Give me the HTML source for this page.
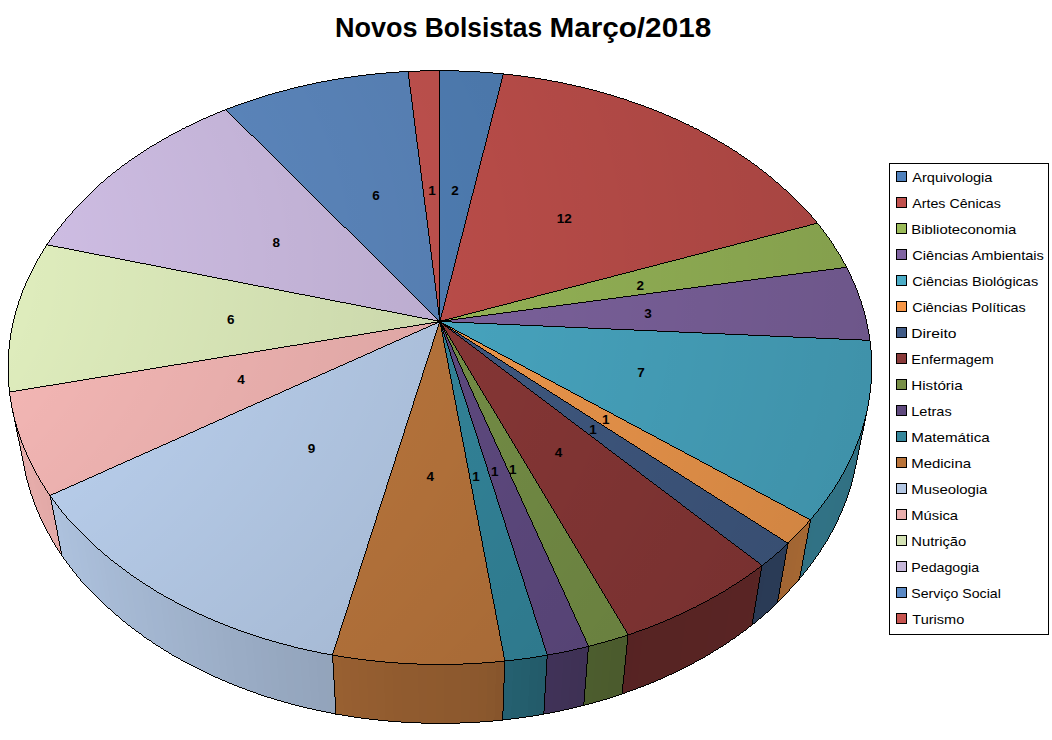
<!DOCTYPE html>
<html lang="pt"><head><meta charset="utf-8"><title>Novos Bolsistas Março/2018</title>
<style>
html,body{margin:0;padding:0;background:#fff;}
body{width:1052px;height:740px;overflow:hidden;position:relative;font-family:"Liberation Sans",sans-serif;}
svg{position:absolute;left:0;top:0;display:block;}
.t{font-family:"Liberation Sans",sans-serif;font-weight:bold;fill:#000;}
.dl{font-family:"Liberation Sans",sans-serif;font-weight:bold;font-size:13.5px;fill:#000;text-anchor:middle;}
.lg{font-family:"Liberation Sans",sans-serif;font-size:13px;fill:#000;}
</style></head><body>
<svg width="1052" height="740" viewBox="0 0 1052 740">
<defs>
<radialGradient id="lit" gradientUnits="userSpaceOnUse" cx="0" cy="0" r="1250" gradientTransform="translate(-306.5 266.9) scale(1 0.7143)">
<stop offset="0" stop-color="#000" stop-opacity="0"/>
<stop offset="0.2656" stop-color="#000" stop-opacity="0"/>
<stop offset="1" stop-color="#000" stop-opacity="0.1941"/>
</radialGradient>
</defs>
<rect width="1052" height="740" fill="#fff"/>
<text id="t0" class="t" x="335.00" y="36.8" font-size="27" textLength="82.64" lengthAdjust="spacingAndGlyphs">Novos</text>
<text id="t1" class="t" x="424.80" y="36.8" font-size="27" textLength="117.30" lengthAdjust="spacingAndGlyphs">Bolsistas</text>
<text id="t2" class="t" x="549.40" y="36.8" font-size="27" textLength="161.81" lengthAdjust="spacingAndGlyphs">Março/2018</text>
<g shape-rendering="crispEdges">
<g stroke="none">
<polygon points="867.48,408.86 866.36,414.04 865.10,419.22 863.70,424.39 862.16,429.57 860.48,434.73 858.67,439.89 856.72,445.03 854.63,450.17 852.40,455.29 850.02,460.40 847.51,465.49 844.86,470.56 842.07,475.61 839.13,480.63 836.06,485.63 832.85,490.60 829.49,495.55 826.00,500.46 822.36,505.34 818.59,510.18 814.67,514.98 810.62,519.75 799.49,579.25 803.44,574.50 807.26,569.70 810.95,564.87 814.51,560.00 817.92,555.09 821.21,550.15 824.35,545.19 827.36,540.19 830.24,535.17 832.98,530.13 835.58,525.06 838.05,519.97 840.38,514.87 842.58,509.75 844.64,504.61 846.57,499.46 848.36,494.31 850.02,489.14 851.54,483.96 852.93,478.78 854.19,473.60 855.31,468.42" fill="#317183"/>
<polygon points="867.48,408.86 866.36,414.04 854.19,473.60 855.31,468.42" fill="#306F81"/>
<polygon points="866.36,414.04 865.10,419.22 852.93,478.78 854.19,473.60" fill="#306F81"/>
<polygon points="865.10,419.22 863.70,424.39 851.54,483.96 852.93,478.78" fill="#306F82"/>
<polygon points="863.70,424.39 862.16,429.57 850.02,489.14 851.54,483.96" fill="#307082"/>
<polygon points="862.16,429.57 860.48,434.73 848.36,494.31 850.02,489.14" fill="#307082"/>
<polygon points="860.48,434.73 858.67,439.89 846.57,499.46 848.36,494.31" fill="#307082"/>
<polygon points="858.67,439.89 856.72,445.03 844.64,504.61 846.57,499.46" fill="#317083"/>
<polygon points="856.72,445.03 854.63,450.17 842.58,509.75 844.64,504.61" fill="#317083"/>
<polygon points="854.63,450.17 852.40,455.29 840.38,514.87 842.58,509.75" fill="#317183"/>
<polygon points="852.40,455.29 850.02,460.40 838.05,519.97 840.38,514.87" fill="#317183"/>
<polygon points="850.02,460.40 847.51,465.49 835.58,525.06 838.05,519.97" fill="#317183"/>
<polygon points="847.51,465.49 844.86,470.56 832.98,530.13 835.58,525.06" fill="#317184"/>
<polygon points="844.86,470.56 842.07,475.61 830.24,535.17 832.98,530.13" fill="#317184"/>
<polygon points="842.07,475.61 839.13,480.63 827.36,540.19 830.24,535.17" fill="#317184"/>
<polygon points="839.13,480.63 836.06,485.63 824.35,545.19 827.36,540.19" fill="#317284"/>
<polygon points="836.06,485.63 832.85,490.60 821.21,550.15 824.35,545.19" fill="#317284"/>
<polygon points="832.85,490.60 829.49,495.55 817.92,555.09 821.21,550.15" fill="#317285"/>
<polygon points="829.49,495.55 826.00,500.46 814.51,560.00 817.92,555.09" fill="#317285"/>
<polygon points="826.00,500.46 822.36,505.34 810.95,564.87 814.51,560.00" fill="#317285"/>
<polygon points="822.36,505.34 818.59,510.18 807.26,569.70 810.95,564.87" fill="#317285"/>
<polygon points="818.59,510.18 814.67,514.98 803.44,574.50 807.26,569.70" fill="#317284"/>
<polygon points="814.67,514.98 810.62,519.75 799.49,579.25 803.44,574.50" fill="#317184"/>
<polygon points="810.62,519.75 806.39,524.52 802.01,529.25 797.50,533.93 792.84,538.56 788.05,543.14 777.48,602.59 782.15,598.02 786.69,593.40 791.09,588.73 795.36,584.02 799.49,579.25" fill="#A36633"/>
<polygon points="810.62,519.75 806.39,524.52 795.36,584.02 799.49,579.25" fill="#A46733"/>
<polygon points="806.39,524.52 802.01,529.25 791.09,588.73 795.36,584.02" fill="#A46733"/>
<polygon points="802.01,529.25 797.50,533.93 786.69,593.40 791.09,588.73" fill="#A36633"/>
<polygon points="797.50,533.93 792.84,538.56 782.15,598.02 786.69,593.40" fill="#A26633"/>
<polygon points="792.84,538.56 788.05,543.14 777.48,602.59 782.15,598.02" fill="#A26533"/>
<polygon points="788.05,543.14 783.13,547.67 778.06,552.14 772.87,556.56 767.54,560.91 762.07,565.20 752.19,624.58 757.51,620.30 762.69,615.96 767.75,611.56 772.68,607.11 777.48,602.59" fill="#2A3B56"/>
<polygon points="788.05,543.14 783.13,547.67 772.68,607.11 777.48,602.59" fill="#2A3B56"/>
<polygon points="783.13,547.67 778.06,552.14 767.75,611.56 772.68,607.11" fill="#2A3B56"/>
<polygon points="778.06,552.14 772.87,556.56 762.69,615.96 767.75,611.56" fill="#2A3B56"/>
<polygon points="772.87,556.56 767.54,560.91 757.51,620.30 762.69,615.96" fill="#2A3B56"/>
<polygon points="767.54,560.91 762.07,565.20 752.19,624.58 757.51,620.30" fill="#2A3A55"/>
<polygon points="762.07,565.20 756.48,569.43 750.76,573.58 744.91,577.68 738.94,581.70 732.84,585.64 726.63,589.51 720.29,593.31 713.83,597.03 707.26,600.66 700.57,604.21 693.78,607.68 686.87,611.06 679.86,614.35 672.75,617.55 665.54,620.66 658.22,623.67 650.81,626.59 643.31,629.41 635.72,632.13 628.05,634.75 622.09,693.82 629.53,691.22 636.89,688.51 644.16,685.71 651.35,682.80 658.44,679.80 665.44,676.71 672.34,673.53 679.14,670.25 685.84,666.89 692.44,663.44 698.92,659.90 705.31,656.28 711.58,652.58 717.73,648.80 723.77,644.95 729.70,641.01 735.50,637.01 741.19,632.93 746.75,628.79 752.19,624.58" fill="#582423"/>
<polygon points="762.07,565.20 756.48,569.43 746.75,628.79 752.19,624.58" fill="#592524"/>
<polygon points="756.48,569.43 750.76,573.58 741.19,632.93 746.75,628.79" fill="#592424"/>
<polygon points="750.76,573.58 744.91,577.68 735.50,637.01 741.19,632.93" fill="#592424"/>
<polygon points="744.91,577.68 738.94,581.70 729.70,641.01 735.50,637.01" fill="#592424"/>
<polygon points="738.94,581.70 732.84,585.64 723.77,644.95 729.70,641.01" fill="#592424"/>
<polygon points="732.84,585.64 726.63,589.51 717.73,648.80 723.77,644.95" fill="#582424"/>
<polygon points="726.63,589.51 720.29,593.31 711.58,652.58 717.73,648.80" fill="#582424"/>
<polygon points="720.29,593.31 713.83,597.03 705.31,656.28 711.58,652.58" fill="#582424"/>
<polygon points="713.83,597.03 707.26,600.66 698.92,659.90 705.31,656.28" fill="#582423"/>
<polygon points="707.26,600.66 700.57,604.21 692.44,663.44 698.92,659.90" fill="#582423"/>
<polygon points="700.57,604.21 693.78,607.68 685.84,666.89 692.44,663.44" fill="#582423"/>
<polygon points="693.78,607.68 686.87,611.06 679.14,670.25 685.84,666.89" fill="#582423"/>
<polygon points="686.87,611.06 679.86,614.35 672.34,673.53 679.14,670.25" fill="#572423"/>
<polygon points="679.86,614.35 672.75,617.55 665.44,676.71 672.34,673.53" fill="#572423"/>
<polygon points="672.75,617.55 665.54,620.66 658.44,679.80 665.44,676.71" fill="#572423"/>
<polygon points="665.54,620.66 658.22,623.67 651.35,682.80 658.44,679.80" fill="#572423"/>
<polygon points="658.22,623.67 650.81,626.59 644.16,685.71 651.35,682.80" fill="#572423"/>
<polygon points="650.81,626.59 643.31,629.41 636.89,688.51 644.16,685.71" fill="#572423"/>
<polygon points="643.31,629.41 635.72,632.13 629.53,691.22 636.89,688.51" fill="#572323"/>
<polygon points="635.72,632.13 628.05,634.75 622.09,693.82 629.53,691.22" fill="#562323"/>
<polygon points="628.05,634.75 620.29,637.27 612.45,639.68 604.53,641.99 596.54,644.19 588.48,646.29 583.75,705.30 591.56,703.21 599.30,701.02 606.97,698.73 614.57,696.33 622.09,693.82" fill="#4C5C2D"/>
<polygon points="628.05,634.75 620.29,637.27 614.57,696.33 622.09,693.82" fill="#4B5B2D"/>
<polygon points="620.29,637.27 612.45,639.68 606.97,698.73 614.57,696.33" fill="#4B5B2D"/>
<polygon points="612.45,639.68 604.53,641.99 599.30,701.02 606.97,698.73" fill="#4C5C2D"/>
<polygon points="604.53,641.99 596.54,644.19 591.56,703.21 599.30,701.02" fill="#4C5C2E"/>
<polygon points="596.54,644.19 588.48,646.29 583.75,705.30 591.56,703.21" fill="#4C5D2E"/>
<polygon points="588.48,646.29 580.35,648.27 572.16,650.15 563.91,651.91 555.61,653.56 547.25,655.10 543.82,714.05 551.91,712.53 559.96,710.89 567.95,709.13 575.88,707.27 583.75,705.30" fill="#3F3256"/>
<polygon points="588.48,646.29 580.35,648.27 575.88,707.27 583.75,705.30" fill="#3E3155"/>
<polygon points="580.35,648.27 572.16,650.15 567.95,709.13 575.88,707.27" fill="#3F3155"/>
<polygon points="572.16,650.15 563.91,651.91 559.96,710.89 567.95,709.13" fill="#3F3256"/>
<polygon points="563.91,651.91 555.61,653.56 551.91,712.53 559.96,710.89" fill="#403257"/>
<polygon points="555.61,653.56 547.25,655.10 543.82,714.05 551.91,712.53" fill="#403258"/>
<polygon points="547.25,655.10 538.84,656.52 530.39,657.82 521.89,659.02 513.36,660.09 504.80,661.05 502.72,719.97 511.01,719.02 519.27,717.95 527.49,716.77 535.68,715.47 543.82,714.05" fill="#245E6D"/>
<polygon points="547.25,655.10 538.84,656.52 535.68,715.47 543.82,714.05" fill="#235B6A"/>
<polygon points="538.84,656.52 530.39,657.82 527.49,716.77 535.68,715.47" fill="#235C6B"/>
<polygon points="530.39,657.82 521.89,659.02 519.27,717.95 527.49,716.77" fill="#245E6D"/>
<polygon points="521.89,659.02 513.36,660.09 511.01,719.02 519.27,717.95" fill="#245F6E"/>
<polygon points="513.36,660.09 504.80,661.05 502.72,719.97 511.01,719.02" fill="#256070"/>
<polygon points="504.80,661.05 496.20,661.88 487.58,662.60 478.94,663.20 470.28,663.68 461.60,664.04 452.92,664.28 444.23,664.40 435.54,664.40 426.85,664.28 418.16,664.04 409.49,663.68 400.83,663.20 392.19,662.60 383.57,661.88 374.97,661.05 366.41,660.09 357.87,659.02 349.38,657.82 340.93,656.52 332.52,655.10 335.95,714.05 344.09,715.47 352.27,716.77 360.50,717.95 368.76,719.02 377.05,719.97 385.37,720.80 393.71,721.51 402.08,722.11 410.46,722.59 418.86,722.95 427.27,723.18 435.68,723.30 444.09,723.30 452.50,723.18 460.91,722.95 469.30,722.59 477.69,722.11 486.05,721.51 494.40,720.80 502.72,719.97" fill="#8F5A2F"/>
<polygon points="504.80,661.05 496.20,661.88 494.40,720.80 502.72,719.97" fill="#87552C"/>
<polygon points="496.20,661.88 487.58,662.60 486.05,721.51 494.40,720.80" fill="#89572D"/>
<polygon points="487.58,662.60 478.94,663.20 477.69,722.11 486.05,721.51" fill="#8B582D"/>
<polygon points="478.94,663.20 470.28,663.68 469.30,722.59 477.69,722.11" fill="#8C582E"/>
<polygon points="470.28,663.68 461.60,664.04 460.91,722.95 469.30,722.59" fill="#8C592E"/>
<polygon points="461.60,664.04 452.92,664.28 452.50,723.18 460.91,722.95" fill="#8D592E"/>
<polygon points="452.92,664.28 444.23,664.40 444.09,723.30 452.50,723.18" fill="#8D592E"/>
<polygon points="444.23,664.40 435.54,664.40 435.68,723.30 444.09,723.30" fill="#8E5A2E"/>
<polygon points="435.54,664.40 426.85,664.28 427.27,723.18 435.68,723.30" fill="#8F5A2E"/>
<polygon points="426.85,664.28 418.16,664.04 418.86,722.95 427.27,723.18" fill="#8F5A2F"/>
<polygon points="418.16,664.04 409.49,663.68 410.46,722.59 418.86,722.95" fill="#905B2F"/>
<polygon points="409.49,663.68 400.83,663.20 402.08,722.11 410.46,722.59" fill="#905B2F"/>
<polygon points="400.83,663.20 392.19,662.60 393.71,721.51 402.08,722.11" fill="#915B2F"/>
<polygon points="392.19,662.60 383.57,661.88 385.37,720.80 393.71,721.51" fill="#925C2F"/>
<polygon points="383.57,661.88 374.97,661.05 377.05,719.97 385.37,720.80" fill="#935D30"/>
<polygon points="374.97,661.05 366.41,660.09 368.76,719.02 377.05,719.97" fill="#945D30"/>
<polygon points="366.41,660.09 357.87,659.02 360.50,717.95 368.76,719.02" fill="#955E30"/>
<polygon points="357.87,659.02 349.38,657.82 352.27,716.77 360.50,717.95" fill="#965E31"/>
<polygon points="349.38,657.82 340.93,656.52 344.09,715.47 352.27,716.77" fill="#975F31"/>
<polygon points="340.93,656.52 332.52,655.10 335.95,714.05 344.09,715.47" fill="#986031"/>
<polygon points="332.52,655.10 324.16,653.56 315.86,651.91 307.61,650.15 299.41,648.27 291.29,646.29 283.23,644.19 275.24,641.99 267.32,639.68 259.48,637.27 251.72,634.75 244.04,632.13 236.45,629.41 228.95,626.59 221.55,623.67 214.23,620.66 207.02,617.55 199.90,614.35 192.89,611.06 185.99,607.68 179.19,604.21 172.51,600.66 165.94,597.03 159.48,593.31 153.14,589.51 146.92,585.64 140.83,581.70 134.85,577.68 129.01,573.58 123.29,569.43 117.69,565.20 112.23,560.91 106.90,556.56 101.70,552.14 96.64,547.67 91.71,543.14 86.92,538.56 82.27,533.93 77.76,529.25 73.38,524.52 69.15,519.75 65.05,514.93 61.10,510.08 57.29,505.18 53.62,500.25 50.10,495.29 61.67,554.83 65.12,559.79 68.70,564.71 72.42,569.60 76.28,574.45 80.28,579.25 84.41,584.02 88.68,588.73 93.08,593.40 97.62,598.02 102.29,602.59 107.08,607.11 112.01,611.56 117.07,615.96 122.26,620.30 127.58,624.58 133.02,628.79 138.58,632.93 144.26,637.01 150.07,641.01 155.99,644.95 162.04,648.80 168.19,652.58 174.46,656.28 180.84,659.90 187.33,663.44 193.93,666.89 200.63,670.25 207.43,673.53 214.33,676.71 221.33,679.80 228.42,682.80 235.61,685.71 242.88,688.51 250.24,691.22 257.68,693.82 265.20,696.33 272.79,698.73 280.46,701.02 288.21,703.21 296.01,705.30 303.89,707.27 311.82,709.13 319.81,710.89 327.86,712.53 335.95,714.05" fill="#A1B4CE"/>
<polygon points="332.52,655.10 324.16,653.56 327.86,712.53 335.95,714.05" fill="#93A4BB"/>
<polygon points="324.16,653.56 315.86,651.91 319.81,710.89 327.86,712.53" fill="#93A4BC"/>
<polygon points="315.86,651.91 307.61,650.15 311.82,709.13 319.81,710.89" fill="#94A5BD"/>
<polygon points="307.61,650.15 299.41,648.27 303.89,707.27 311.82,709.13" fill="#95A6BE"/>
<polygon points="299.41,648.27 291.29,646.29 296.01,705.30 303.89,707.27" fill="#95A7BF"/>
<polygon points="291.29,646.29 283.23,644.19 288.21,703.21 296.01,705.30" fill="#96A7BF"/>
<polygon points="283.23,644.19 275.24,641.99 280.46,701.02 288.21,703.21" fill="#96A8C0"/>
<polygon points="275.24,641.99 267.32,639.68 272.79,698.73 280.46,701.02" fill="#97A9C1"/>
<polygon points="267.32,639.68 259.48,637.27 265.20,696.33 272.79,698.73" fill="#98A9C2"/>
<polygon points="259.48,637.27 251.72,634.75 257.68,693.82 265.20,696.33" fill="#98AAC3"/>
<polygon points="251.72,634.75 244.04,632.13 250.24,691.22 257.68,693.82" fill="#99ABC4"/>
<polygon points="244.04,632.13 236.45,629.41 242.88,688.51 250.24,691.22" fill="#9AACC5"/>
<polygon points="236.45,629.41 228.95,626.59 235.61,685.71 242.88,688.51" fill="#9AACC5"/>
<polygon points="228.95,626.59 221.55,623.67 228.42,682.80 235.61,685.71" fill="#9BADC6"/>
<polygon points="221.55,623.67 214.23,620.66 221.33,679.80 228.42,682.80" fill="#9CAEC7"/>
<polygon points="214.23,620.66 207.02,617.55 214.33,676.71 221.33,679.80" fill="#9DAFC8"/>
<polygon points="207.02,617.55 199.90,614.35 207.43,673.53 214.33,676.71" fill="#9DB0C9"/>
<polygon points="199.90,614.35 192.89,611.06 200.63,670.25 207.43,673.53" fill="#9EB0CA"/>
<polygon points="192.89,611.06 185.99,607.68 193.93,666.89 200.63,670.25" fill="#9FB1CB"/>
<polygon points="185.99,607.68 179.19,604.21 187.33,663.44 193.93,666.89" fill="#9FB2CB"/>
<polygon points="179.19,604.21 172.51,600.66 180.84,659.90 187.33,663.44" fill="#A0B3CC"/>
<polygon points="172.51,600.66 165.94,597.03 174.46,656.28 180.84,659.90" fill="#A1B3CD"/>
<polygon points="165.94,597.03 159.48,593.31 168.19,652.58 174.46,656.28" fill="#A1B4CE"/>
<polygon points="159.48,593.31 153.14,589.51 162.04,648.80 168.19,652.58" fill="#A2B5CF"/>
<polygon points="153.14,589.51 146.92,585.64 155.99,644.95 162.04,648.80" fill="#A2B5D0"/>
<polygon points="146.92,585.64 140.83,581.70 150.07,641.01 155.99,644.95" fill="#A3B6D0"/>
<polygon points="140.83,581.70 134.85,577.68 144.26,637.01 150.07,641.01" fill="#A4B7D1"/>
<polygon points="134.85,577.68 129.01,573.58 138.58,632.93 144.26,637.01" fill="#A4B7D2"/>
<polygon points="129.01,573.58 123.29,569.43 133.02,628.79 138.58,632.93" fill="#A5B8D2"/>
<polygon points="123.29,569.43 117.69,565.20 127.58,624.58 133.02,628.79" fill="#A5B9D3"/>
<polygon points="117.69,565.20 112.23,560.91 122.26,620.30 127.58,624.58" fill="#A6B9D4"/>
<polygon points="112.23,560.91 106.90,556.56 117.07,615.96 122.26,620.30" fill="#A6BAD5"/>
<polygon points="106.90,556.56 101.70,552.14 112.01,611.56 117.07,615.96" fill="#A7BAD5"/>
<polygon points="101.70,552.14 96.64,547.67 107.08,607.11 112.01,611.56" fill="#A8BBD6"/>
<polygon points="96.64,547.67 91.71,543.14 102.29,602.59 107.08,607.11" fill="#A8BCD7"/>
<polygon points="91.71,543.14 86.92,538.56 97.62,598.02 102.29,602.59" fill="#A9BCD8"/>
<polygon points="86.92,538.56 82.27,533.93 93.08,593.40 97.62,598.02" fill="#A9BDD8"/>
<polygon points="82.27,533.93 77.76,529.25 88.68,588.73 93.08,593.40" fill="#AABED9"/>
<polygon points="77.76,529.25 73.38,524.52 84.41,584.02 88.68,588.73" fill="#AABEDA"/>
<polygon points="73.38,524.52 69.15,519.75 80.28,579.25 84.41,584.02" fill="#ABBFDA"/>
<polygon points="69.15,519.75 65.05,514.93 76.28,574.45 80.28,579.25" fill="#ABBFDB"/>
<polygon points="65.05,514.93 61.10,510.08 72.42,569.60 76.28,574.45" fill="#ACC0DB"/>
<polygon points="61.10,510.08 57.29,505.18 68.70,564.71 72.42,569.60" fill="#ACC0DC"/>
<polygon points="57.29,505.18 53.62,500.25 65.12,559.79 68.70,564.71" fill="#ADC1DD"/>
<polygon points="53.62,500.25 50.10,495.29 61.67,554.83 65.12,559.79" fill="#ADC1DD"/>
<polygon points="50.10,495.29 46.76,490.36 43.56,485.40 40.50,480.41 37.59,475.40 34.81,470.37 32.17,465.31 29.67,460.24 27.31,455.15 25.09,450.04 23.01,444.92 21.06,439.79 19.26,434.65 17.59,429.50 16.06,424.35 14.66,419.19 13.41,414.03 12.28,408.86 24.46,468.42 25.58,473.59 26.83,478.75 28.22,483.92 29.73,489.07 31.38,494.22 33.17,499.37 35.08,504.50 37.14,509.62 39.32,514.73 41.64,519.82 44.10,524.89 46.69,529.94 49.41,534.97 52.28,539.98 55.27,544.96 58.40,549.91 61.67,554.83" fill="#E6ACAA"/>
<polygon points="50.10,495.29 46.76,490.36 58.40,549.91 61.67,554.83" fill="#E2A9A7"/>
<polygon points="46.76,490.36 43.56,485.40 55.27,544.96 58.40,549.91" fill="#E2A9A7"/>
<polygon points="43.56,485.40 40.50,480.41 52.28,539.98 55.27,544.96" fill="#E3AAA8"/>
<polygon points="40.50,480.41 37.59,475.40 49.41,534.97 52.28,539.98" fill="#E3AAA8"/>
<polygon points="37.59,475.40 34.81,470.37 46.69,529.94 49.41,534.97" fill="#E4AAA8"/>
<polygon points="34.81,470.37 32.17,465.31 44.10,524.89 46.69,529.94" fill="#E4ABA9"/>
<polygon points="32.17,465.31 29.67,460.24 41.64,519.82 44.10,524.89" fill="#E5ABA9"/>
<polygon points="29.67,460.24 27.31,455.15 39.32,514.73 41.64,519.82" fill="#E6ACAA"/>
<polygon points="27.31,455.15 25.09,450.04 37.14,509.62 39.32,514.73" fill="#E6ACAA"/>
<polygon points="25.09,450.04 23.01,444.92 35.08,504.50 37.14,509.62" fill="#E5ACAA"/>
<polygon points="23.01,444.92 21.06,439.79 33.17,499.37 35.08,504.50" fill="#E5ABA9"/>
<polygon points="21.06,439.79 19.26,434.65 31.38,494.22 33.17,499.37" fill="#E4AAA8"/>
<polygon points="19.26,434.65 17.59,429.50 29.73,489.07 31.38,494.22" fill="#E3AAA8"/>
<polygon points="17.59,429.50 16.06,424.35 28.22,483.92 29.73,489.07" fill="#E2A9A7"/>
<polygon points="16.06,424.35 14.66,419.19 26.83,478.75 28.22,483.92" fill="#E1A8A7"/>
<polygon points="14.66,419.19 13.41,414.03 25.58,473.59 26.83,478.75" fill="#E0A8A6"/>
<polygon points="13.41,414.03 12.28,408.86 24.46,468.42 25.58,473.59" fill="#E0A7A5"/>
</g>
<g stroke="none">
<polygon points="439.88,321.47 439.88,70.70 443.06,70.71 446.24,70.73 449.42,70.77 452.59,70.83 455.77,70.90 458.95,70.99 462.12,71.09 465.30,71.21 468.47,71.35 471.64,71.50 474.81,71.67 477.98,71.85 481.15,72.06 484.31,72.27 487.48,72.51 490.64,72.75 493.80,73.02 496.95,73.30 500.11,73.60 503.26,73.91" fill="#5485BE"/>
<polygon points="439.88,321.47 503.26,73.91 506.43,74.24 509.61,74.59 512.77,74.96 515.94,75.34 519.10,75.74 522.26,76.15 525.42,76.58 528.57,77.03 531.71,77.49 534.86,77.97 537.99,78.46 541.13,78.97 544.26,79.50 547.38,80.04 550.50,80.60 553.61,81.18 556.72,81.77 559.83,82.38 562.93,83.00 566.02,83.64 569.10,84.30 572.19,84.97 575.26,85.66 578.33,86.37 581.39,87.09 584.45,87.83 587.49,88.58 590.54,89.35 593.57,90.14 596.60,90.94 599.62,91.76 602.63,92.59 605.63,93.44 608.63,94.30 611.62,95.19 614.60,96.08 617.57,97.00 620.54,97.93 623.49,98.87 626.44,99.83 629.38,100.81 632.31,101.80 635.23,102.81 638.14,103.84 641.04,104.88 643.93,105.93 646.81,107.00 649.68,108.09 652.54,109.19 655.39,110.31 658.23,111.45 661.06,112.60 663.88,113.76 666.69,114.94 669.48,116.14 672.27,117.35 675.04,118.58 677.80,119.82 680.55,121.08 683.29,122.36 686.02,123.65 688.73,124.95 691.43,126.27 694.12,127.61 696.79,128.96 699.46,130.32 702.11,131.70 704.74,133.10 707.36,134.51 709.97,135.94 712.57,137.38 715.15,138.84 717.71,140.31 720.26,141.79 722.80,143.29 725.32,144.81 727.83,146.34 730.32,147.89 732.80,149.45 735.26,151.02 737.71,152.61 740.14,154.21 742.55,155.83 744.95,157.47 747.33,159.11 749.70,160.78 752.05,162.45 754.38,164.14 756.69,165.85 758.99,167.57 761.27,169.30 763.53,171.05 765.78,172.81 768.00,174.58 770.21,176.37 772.40,178.17 774.57,179.99 776.72,181.82 778.86,183.66 780.97,185.52 783.07,187.39 785.14,189.28 787.20,191.17 789.24,193.09 791.25,195.01 793.25,196.95 795.22,198.90 797.18,200.86 799.11,202.84 801.03,204.83 802.92,206.83 804.79,208.84 806.64,210.87 808.47,212.91 810.27,214.96 812.05,217.03 813.82,219.11 815.55,221.20 817.27,223.30" fill="#C9534F"/>
<polygon points="439.88,321.47 817.27,223.30 818.95,225.39 820.61,227.50 822.24,229.62 823.85,231.75 825.44,233.89 827.00,236.05 828.54,238.21 830.06,240.39 831.55,242.58 833.02,244.77 834.46,246.98 835.88,249.20 837.28,251.43 838.65,253.67 839.99,255.93 841.31,258.19 842.60,260.46 843.87,262.74 845.12,265.03 846.33,267.34" fill="#A0C15D"/>
<polygon points="439.88,321.47 846.33,267.34 847.52,269.65 848.69,271.97 849.82,274.30 850.93,276.64 852.02,278.99 853.08,281.35 854.11,283.72 855.11,286.09 856.08,288.48 857.03,290.87 857.95,293.28 858.84,295.69 859.70,298.11 860.53,300.53 861.34,302.97 862.12,305.41 862.86,307.86 863.58,310.32 864.27,312.79 864.93,315.26 865.56,317.74 866.16,320.23 866.73,322.72 867.27,325.22 867.78,327.73 868.26,330.24 868.71,332.76 869.12,335.28 869.51,337.81 869.87,340.35" fill="#8569A8"/>
<polygon points="439.88,321.47 869.87,340.35 870.19,342.89 870.48,345.44 870.74,347.99 870.97,350.55 871.17,353.11 871.34,355.68 871.47,358.25 871.57,360.82 871.64,363.40 871.68,365.98 871.68,368.57 871.65,371.16 871.59,373.75 871.49,376.35 871.37,378.94 871.20,381.55 871.01,384.15 870.78,386.76 870.52,389.36 870.22,391.97 869.89,394.58 869.53,397.20 869.13,399.81 868.69,402.43 868.23,405.04 867.73,407.66 867.19,410.27 866.62,412.89 866.01,415.51 865.37,418.12 864.70,420.74 863.99,423.36 863.24,425.97 862.46,428.58 861.65,431.19 860.80,433.80 859.91,436.41 858.99,439.02 858.03,441.62 857.04,444.22 856.01,446.82 854.95,449.41 853.85,452.00 852.71,454.59 851.54,457.17 850.33,459.75 849.09,462.33 847.81,464.90 846.50,467.46 845.15,470.02 843.76,472.58 842.34,475.13 840.88,477.67 839.39,480.21 837.86,482.74 836.29,485.26 834.69,487.78 833.05,490.29 831.38,492.79 829.67,495.29 827.93,497.77 826.15,500.25 824.33,502.72 822.48,505.18 820.59,507.63 818.67,510.08 816.71,512.51 814.72,514.93 812.69,517.35 810.62,519.75" fill="#4DB2CF"/>
<polygon points="439.88,321.47 810.62,519.75 808.52,522.14 806.39,524.52 804.22,526.89 802.01,529.25 799.77,531.60 797.50,533.93 795.19,536.25 792.84,538.56 790.47,540.86 788.05,543.14" fill="#FFA251"/>
<polygon points="439.88,321.47 788.05,543.14 785.61,545.41 783.13,547.67 780.61,549.91 778.06,552.14 775.48,554.36 772.87,556.56 770.22,558.74 767.54,560.91 764.82,563.06 762.07,565.20" fill="#445F8A"/>
<polygon points="439.88,321.47 762.07,565.20 759.29,567.32 756.48,569.43 753.64,571.51 750.76,573.58 747.85,575.64 744.91,577.68 741.94,579.69 738.94,581.70 735.91,583.68 732.84,585.64 729.75,587.59 726.63,589.51 723.47,591.42 720.29,593.31 717.07,595.18 713.83,597.03 710.56,598.85 707.26,600.66 703.93,602.45 700.57,604.21 697.19,605.96 693.78,607.68 690.34,609.38 686.87,611.06 683.38,612.72 679.86,614.35 676.32,615.96 672.75,617.55 669.16,619.12 665.54,620.66 661.89,622.18 658.22,623.67 654.53,625.14 650.81,626.59 647.08,628.01 643.31,629.41 639.53,630.78 635.72,632.13 631.90,633.45 628.05,634.75" fill="#913B3A"/>
<polygon points="439.88,321.47 628.05,634.75 624.18,636.02 620.29,637.27 616.38,638.49 612.45,639.68 608.50,640.85 604.53,641.99 600.55,643.11 596.54,644.19 592.52,645.25 588.48,646.29" fill="#7D984B"/>
<polygon points="439.88,321.47 588.48,646.29 584.43,647.29 580.35,648.27 576.27,649.22 572.16,650.15 568.04,651.04 563.91,651.91 559.77,652.75 555.61,653.56 551.43,654.34 547.25,655.10" fill="#654F89"/>
<polygon points="439.88,321.47 547.25,655.10 543.05,655.82 538.84,656.52 534.62,657.19 530.39,657.82 526.14,658.43 521.89,659.02 517.63,659.57 513.36,660.09 509.08,660.58 504.80,661.05" fill="#368DA4"/>
<polygon points="439.88,321.47 504.80,661.05 500.50,661.48 496.20,661.88 491.89,662.26 487.58,662.60 483.26,662.92 478.94,663.20 474.61,663.46 470.28,663.68 465.94,663.88 461.60,664.04 457.26,664.18 452.92,664.28 448.58,664.36 444.23,664.40 439.88,664.42 435.54,664.40 431.19,664.36 426.85,664.28 422.50,664.18 418.16,664.04 413.82,663.88 409.49,663.68 405.16,663.46 400.83,663.20 396.51,662.92 392.19,662.60 387.87,662.26 383.57,661.88 379.27,661.48 374.97,661.05 370.68,660.58 366.41,660.09 362.14,659.57 357.87,659.02 353.62,658.43 349.38,657.82 345.15,657.19 340.93,656.52 336.72,655.82 332.52,655.10" fill="#C27B3F"/>
<polygon points="439.88,321.47 332.52,655.10 328.29,654.33 324.07,653.54 319.86,652.72 315.67,651.87 311.49,650.99 307.33,650.08 303.18,649.15 299.05,648.18 294.93,647.19 290.83,646.17 286.75,645.12 282.69,644.05 278.64,642.94 274.61,641.81 270.60,640.65 266.61,639.47 262.64,638.26 258.69,637.02 254.76,635.75 250.85,634.46 246.97,633.14 243.10,631.80 239.26,630.43 235.44,629.03 231.64,627.61 227.87,626.17 224.11,624.70 220.39,623.20 216.69,621.68 213.01,620.14 209.36,618.57 205.73,616.98 202.13,615.37 198.56,613.73 195.01,612.07 191.49,610.38 187.99,608.68 184.53,606.95 181.09,605.19 177.68,603.42 174.30,601.63 170.95,599.81 167.62,597.97 164.33,596.11 161.07,594.24 157.83,592.34 154.63,590.42 151.45,588.48 148.31,586.52 145.20,584.54 142.12,582.54 139.07,580.53 136.05,578.49 133.07,576.44 130.11,574.37 127.19,572.28 124.30,570.18 121.45,568.06 118.63,565.92 115.84,563.76 113.08,561.59 110.36,559.40 107.67,557.19 105.02,554.98 102.40,552.74 99.81,550.49 97.26,548.23 94.74,545.95 92.26,543.66 89.81,541.35 87.40,539.03 85.03,536.70 82.68,534.35 80.38,531.99 78.11,529.62 75.87,527.24 73.67,524.84 71.51,522.44 69.38,520.02 67.29,517.59 65.23,515.15 63.21,512.70 61.23,510.24 59.28,507.77 57.37,505.29 55.50,502.80 53.66,500.31 51.86,497.80 50.10,495.29" fill="#BBD1EF"/>
<polygon points="439.88,321.47 50.10,495.29 48.39,492.79 46.71,490.29 45.08,487.78 43.48,485.26 41.91,482.74 40.38,480.21 38.89,477.67 37.43,475.13 36.01,472.58 34.62,470.02 33.27,467.46 31.96,464.90 30.68,462.33 29.44,459.75 28.23,457.17 27.06,454.59 25.92,452.00 24.82,449.41 23.76,446.82 22.73,444.22 21.74,441.62 20.78,439.02 19.86,436.41 18.97,433.80 18.12,431.19 17.31,428.58 16.53,425.97 15.78,423.36 15.07,420.74 14.39,418.12 13.75,415.51 13.15,412.89 12.58,410.27 12.04,407.66 11.54,405.04 11.07,402.43 10.64,399.81 10.24,397.20 9.88,394.58 9.55,391.97" fill="#F3B6B4"/>
<polygon points="439.88,321.47 9.55,391.97 9.25,389.36 8.99,386.76 8.76,384.15 8.56,381.55 8.40,378.94 8.27,376.35 8.18,373.75 8.12,371.16 8.09,368.57 8.09,365.98 8.13,363.40 8.20,360.82 8.30,358.25 8.43,355.68 8.60,353.11 8.79,350.55 9.02,347.99 9.28,345.44 9.58,342.89 9.90,340.35 10.26,337.81 10.64,335.28 11.06,332.76 11.51,330.24 11.99,327.73 12.50,325.22 13.04,322.72 13.61,320.23 14.21,317.74 14.84,315.26 15.50,312.79 16.19,310.32 16.90,307.86 17.65,305.41 18.43,302.97 19.23,300.53 20.07,298.11 20.93,295.69 21.82,293.28 22.74,290.87 23.69,288.48 24.66,286.09 25.66,283.72 26.69,281.35 27.75,278.99 28.83,276.64 29.94,274.30 31.08,271.97 32.25,269.65 33.44,267.34 34.65,265.03 35.90,262.74 37.16,260.46 38.46,258.19 39.78,255.93 41.12,253.67 42.49,251.43 43.89,249.20 45.31,246.98 46.75,244.77" fill="#DEECBC"/>
<polygon points="439.88,321.47 46.75,244.77 48.24,242.55 49.75,240.33 51.29,238.13 52.85,235.94 54.43,233.76 56.04,231.59 57.67,229.43 59.33,227.29 61.01,225.15 62.71,223.03 64.44,220.92 66.19,218.83 67.96,216.74 69.75,214.67 71.57,212.61 73.41,210.56 75.27,208.53 77.15,206.51 79.05,204.50 80.98,202.51 82.92,200.52 84.89,198.55 86.88,196.60 88.89,194.65 90.91,192.72 92.96,190.81 95.03,188.90 97.12,187.01 99.23,185.14 101.36,183.28 103.50,181.43 105.67,179.59 107.85,177.77 110.06,175.96 112.28,174.17 114.52,172.39 116.78,170.63 119.05,168.88 121.35,167.14 123.66,165.42 125.99,163.71 128.33,162.01 130.69,160.33 133.07,158.67 135.47,157.02 137.88,155.38 140.31,153.76 142.76,152.15 145.22,150.56 147.69,148.99 150.19,147.42 152.69,145.88 155.22,144.34 157.75,142.83 160.31,141.32 162.87,139.84 165.46,138.36 168.05,136.90 170.66,135.46 173.29,134.04 175.92,132.62 178.57,131.23 181.24,129.84 183.92,128.48 186.61,127.13 189.31,125.79 192.03,124.47 194.76,123.17 197.50,121.88 200.25,120.61 203.02,119.35 205.80,118.10 208.59,116.88 211.39,115.67 214.20,114.47 217.03,113.29 219.86,112.13 222.71,110.98 225.56,109.85" fill="#CEBDE3"/>
<polygon points="439.88,321.47 225.56,109.85 228.39,108.74 231.23,107.65 234.09,106.58 236.95,105.53 239.82,104.48 242.70,103.46 245.59,102.45 248.48,101.45 251.39,100.47 254.31,99.51 257.23,98.56 260.17,97.63 263.11,96.71 266.06,95.81 269.02,94.93 271.98,94.06 274.96,93.20 277.94,92.37 280.93,91.54 283.93,90.74 286.93,89.95 289.94,89.17 292.96,88.41 295.98,87.67 299.02,86.94 302.05,86.23 305.10,85.53 308.15,84.85 311.20,84.19 314.27,83.54 317.33,82.90 320.41,82.29 323.48,81.69 326.57,81.10 329.66,80.53 332.75,79.98 335.85,79.44 338.95,78.92 342.06,78.42 345.17,77.93 348.29,77.45 351.41,76.99 354.54,76.55 357.67,76.13 360.80,75.72 363.93,75.33 367.07,74.95 370.22,74.59 373.36,74.24 376.51,73.91 379.66,73.60 382.81,73.30 385.97,73.02 389.13,72.75 392.29,72.51 395.45,72.27 398.62,72.06 401.79,71.85 404.96,71.67 408.13,71.50" fill="#5E8AC2"/>
<polygon points="439.88,321.47 408.13,71.50 411.30,71.35 414.47,71.21 417.65,71.09 420.82,70.99 424.00,70.90 427.17,70.83 430.35,70.77 433.53,70.73 436.71,70.71 439.88,70.70" fill="#CB5652"/>
</g>
<polygon points="439.88,70.70 443.11,70.71 446.33,70.73 449.55,70.77 452.77,70.83 455.99,70.90 459.21,70.99 462.43,71.10 465.65,71.23 468.87,71.37 472.08,71.52 475.30,71.70 478.51,71.89 481.72,72.09 484.93,72.32 488.14,72.56 491.34,72.81 494.54,73.08 497.74,73.37 500.94,73.68 504.13,74.00 507.33,74.34 510.51,74.70 513.70,75.07 516.88,75.45 520.06,75.86 523.23,76.28 526.40,76.72 529.57,77.17 532.73,77.64 535.89,78.13 539.04,78.63 542.19,79.15 545.34,79.69 548.48,80.24 551.61,80.81 554.74,81.39 557.87,81.99 560.98,82.61 564.10,83.24 567.20,83.90 570.31,84.56 573.40,85.24 576.49,85.94 579.57,86.66 582.65,87.39 585.72,88.14 588.78,88.90 591.83,89.68 594.88,90.48 597.92,91.29 600.96,92.12 603.98,92.97 607.00,93.83 610.01,94.71 613.01,95.60 616.00,96.51 618.99,97.44 621.96,98.38 624.93,99.34 627.89,100.31 630.84,101.30 633.78,102.31 636.71,103.33 639.63,104.37 642.54,105.42 645.44,106.49 648.34,107.58 651.22,108.68 654.09,109.80 656.95,110.93 659.80,112.08 662.64,113.25 665.46,114.43 668.28,115.62 671.09,116.84 673.88,118.06 676.66,119.31 679.43,120.57 682.19,121.84 684.93,123.13 687.67,124.44 690.39,125.76 693.09,127.10 695.79,128.45 698.47,129.82 701.14,131.20 703.79,132.60 706.43,134.01 709.06,135.44 711.68,136.88 714.28,138.34 716.86,139.82 719.43,141.30 721.99,142.81 724.53,144.33 727.05,145.86 729.56,147.41 732.06,148.98 734.54,150.56 737.00,152.15 739.45,153.76 741.88,155.38 744.30,157.02 746.70,158.67 749.08,160.34 751.45,162.02 753.79,163.72 756.13,165.43 758.44,167.15 760.74,168.89 763.01,170.64 765.28,172.41 767.52,174.19 769.74,175.99 771.95,177.80 774.13,179.62 776.30,181.46 778.45,183.31 780.58,185.17 782.69,187.05 784.78,188.95 786.85,190.85 788.90,192.77 790.93,194.70 792.94,196.65 794.93,198.61 796.90,200.58 798.85,202.57 800.78,204.56 802.68,206.58 804.56,208.60 806.43,210.64 808.27,212.69 810.08,214.75 811.88,216.82 813.65,218.91 815.40,221.01 817.13,223.12 818.83,225.25 820.51,227.38 822.17,229.53 823.81,231.69 825.41,233.86 827.00,236.05 828.56,238.24 830.10,240.45 831.61,242.67 833.10,244.90 834.56,247.14 836.00,249.39 837.41,251.65 838.80,253.92 840.16,256.21 841.49,258.50 842.80,260.81 844.08,263.12 845.34,265.45 846.57,267.78 847.77,270.13 848.94,272.49 850.09,274.85 851.21,277.23 852.30,279.61 853.36,282.01 854.40,284.41 855.41,286.82 856.39,289.24 857.34,291.67 858.26,294.11 859.15,296.56 860.02,299.02 860.85,301.48 861.66,303.95 862.43,306.43 863.18,308.92 863.89,311.42 864.58,313.92 865.23,316.43 865.86,318.95 866.45,321.47 867.01,324.00 867.54,326.54 868.04,329.09 868.51,331.64 868.95,334.20 869.35,336.76 869.73,339.33 870.07,341.90 870.38,344.48 870.65,347.07 870.90,349.66 871.11,352.26 871.29,354.86 871.43,357.46 871.55,360.07 871.63,362.68 871.67,365.30 871.68,367.92 871.66,370.55 871.61,373.17 871.52,375.80 871.39,378.44 871.24,381.08 871.04,383.72 870.82,386.36 870.56,389.00 870.26,391.65 869.93,394.29 869.56,396.94 869.16,399.59 868.73,402.24 868.25,404.90 867.75,407.55 867.21,410.20 866.63,412.86 866.01,415.51 865.36,418.16 864.68,420.81 863.96,423.46 863.20,426.11 862.41,428.76 861.58,431.41 860.71,434.06 859.81,436.70 858.87,439.34 857.89,441.98 856.88,444.62 855.83,447.25 854.75,449.88 853.63,452.51 852.47,455.13 851.27,457.75 850.04,460.36 848.77,462.97 847.47,465.57 846.13,468.17 844.75,470.77 843.33,473.36 841.88,475.94 840.39,478.52 838.86,481.09 837.30,483.65 835.70,486.21 834.06,488.76 832.38,491.30 830.67,493.83 828.92,496.36 827.14,498.88 825.32,501.38 823.46,503.88 821.57,506.38 819.63,508.86 817.67,511.33 815.66,513.79 813.62,516.24 811.54,518.68 809.43,521.11 807.28,523.53 805.09,525.94 802.87,528.33 800.62,530.72 798.32,533.09 795.99,535.45 793.63,537.80 791.23,540.13 788.79,542.45 786.32,544.75 783.82,547.05 781.28,549.32 778.70,551.59 776.09,553.83 773.45,556.07 770.77,558.29 768.06,560.49 765.31,562.67 762.53,564.84 759.72,567.00 756.87,569.13 754.00,571.25 751.08,573.36 748.14,575.44 745.16,577.51 742.15,579.55 739.11,581.58 736.03,583.60 732.93,585.59 729.79,587.56 726.63,589.51 723.43,591.45 720.20,593.36 716.94,595.25 713.65,597.13 710.33,598.98 706.98,600.81 703.61,602.62 700.20,604.41 696.77,606.17 693.30,607.92 689.81,609.64 686.29,611.34 682.75,613.01 679.18,614.66 675.58,616.29 671.95,617.90 668.30,619.48 664.63,621.04 660.93,622.57 657.20,624.08 653.45,625.57 649.67,627.03 645.88,628.46 642.06,629.87 638.21,631.25 634.34,632.61 630.46,633.94 626.55,635.25 622.61,636.53 618.66,637.78 614.69,639.01 610.70,640.20 606.68,641.38 602.65,642.52 598.60,643.64 594.53,644.73 590.45,645.79 586.34,646.82 582.22,647.83 578.08,648.80 573.93,649.75 569.76,650.67 565.58,651.56 561.38,652.43 557.17,653.26 552.94,654.06 548.70,654.84 544.45,655.58 540.19,656.30 535.91,656.99 531.62,657.64 527.32,658.27 523.02,658.87 518.70,659.43 514.37,659.97 510.03,660.47 505.69,660.95 501.34,661.40 496.98,661.81 492.61,662.20 488.24,662.55 483.86,662.88 479.48,663.17 475.09,663.43 470.70,663.66 466.30,663.86 461.91,664.03 457.50,664.17 453.10,664.28 448.70,664.36 444.29,664.40 439.88,664.42 435.48,664.40 431.07,664.36 426.67,664.28 422.26,664.17 417.86,664.03 413.46,663.86 409.07,663.66 404.68,663.43 400.29,663.17 395.91,662.88 391.53,662.55 387.15,662.20 382.79,661.81 378.43,661.40 374.08,660.95 369.73,660.47 365.40,659.97 361.07,659.43 356.75,658.87 352.44,658.27 348.15,657.64 343.86,656.99 339.58,656.30 335.32,655.58 331.07,654.84 326.83,654.06 322.60,653.26 318.39,652.43 314.19,651.56 310.01,650.67 305.84,649.75 301.68,648.80 297.55,647.83 293.43,646.82 289.32,645.79 285.24,644.73 281.17,643.64 277.12,642.52 273.08,641.38 269.07,640.20 265.08,639.01 261.11,637.78 257.15,636.53 253.22,635.25 249.31,633.94 245.42,632.61 241.56,631.25 237.71,629.87 233.89,628.46 230.09,627.03 226.32,625.57 222.57,624.08 218.84,622.57 215.14,621.04 211.46,619.48 207.81,617.90 204.19,616.29 200.59,614.66 197.02,613.01 193.47,611.34 189.96,609.64 186.47,607.92 183.00,606.17 179.57,604.41 176.16,602.62 172.78,600.81 169.44,598.98 166.12,597.13 162.83,595.25 159.57,593.36 156.34,591.45 153.14,589.51 149.98,587.56 146.84,585.59 143.73,583.60 140.66,581.58 137.62,579.55 134.61,577.51 131.63,575.44 128.69,573.36 125.77,571.25 122.89,569.13 120.05,567.00 117.23,564.84 114.45,562.67 111.71,560.49 109.00,558.29 106.32,556.07 103.67,553.83 101.06,551.59 98.49,549.32 95.95,547.05 93.44,544.75 90.97,542.45 88.54,540.13 86.14,537.80 83.77,535.45 81.45,533.09 79.15,530.72 76.89,528.33 74.67,525.94 72.49,523.53 70.34,521.11 68.22,518.68 66.15,516.24 64.11,513.79 62.10,511.33 60.13,508.86 58.20,506.38 56.31,503.88 54.45,501.38 52.63,498.88 50.84,496.36 49.10,493.83 47.38,491.30 45.71,488.76 44.07,486.21 42.47,483.65 40.91,481.09 39.38,478.52 37.89,475.94 36.44,473.36 35.02,470.77 33.64,468.17 32.30,465.57 30.99,462.97 29.73,460.36 28.49,457.75 27.30,455.13 26.14,452.51 25.02,449.88 23.93,447.25 22.89,444.62 21.87,441.98 20.90,439.34 19.96,436.70 19.06,434.06 18.19,431.41 17.36,428.76 16.57,426.11 15.81,423.46 15.09,420.81 14.40,418.16 13.75,415.51 13.14,412.86 12.56,410.20 12.02,407.55 11.51,404.90 11.04,402.24 10.61,399.59 10.20,396.94 9.84,394.29 9.51,391.65 9.21,389.00 8.95,386.36 8.72,383.72 8.53,381.08 8.37,378.44 8.25,375.80 8.16,373.17 8.11,370.55 8.08,367.92 8.10,365.30 8.14,362.68 8.22,360.07 8.33,357.46 8.48,354.86 8.66,352.26 8.87,349.66 9.11,347.07 9.39,344.48 9.70,341.90 10.04,339.33 10.41,336.76 10.82,334.20 11.26,331.64 11.73,329.09 12.23,326.54 12.76,324.00 13.32,321.47 13.91,318.95 14.54,316.43 15.19,313.92 15.88,311.42 16.59,308.92 17.34,306.43 18.11,303.95 18.92,301.48 19.75,299.02 20.61,296.56 21.51,294.11 22.43,291.67 23.38,289.24 24.36,286.82 25.37,284.41 26.40,282.01 27.47,279.61 28.56,277.23 29.68,274.85 30.83,272.49 32.00,270.13 33.20,267.78 34.43,265.45 35.69,263.12 36.97,260.81 38.28,258.50 39.61,256.21 40.97,253.92 42.36,251.65 43.77,249.39 45.21,247.14 46.67,244.90 48.16,242.67 49.67,240.45 51.21,238.24 52.77,236.05 54.35,233.86 55.96,231.69 57.60,229.53 59.25,227.38 60.93,225.25 62.64,223.12 64.37,221.01 66.12,218.91 67.89,216.82 69.68,214.75 71.50,212.69 73.34,210.64 75.20,208.60 77.09,206.58 78.99,204.56 80.92,202.57 82.87,200.58 84.83,198.61 86.82,196.65 88.83,194.70 90.86,192.77 92.92,190.85 94.99,188.95 97.08,187.05 99.19,185.17 101.32,183.31 103.47,181.46 105.63,179.62 107.82,177.80 110.03,175.99 112.25,174.19 114.49,172.41 116.75,170.64 119.03,168.89 121.33,167.15 123.64,165.43 125.97,163.72 128.32,162.02 130.69,160.34 133.07,158.67 135.47,157.02 137.88,155.38 140.32,153.76 142.76,152.15 145.23,150.56 147.71,148.98 150.20,147.41 152.71,145.86 155.24,144.33 157.78,142.81 160.34,141.30 162.91,139.82 165.49,138.34 168.09,136.88 170.71,135.44 173.33,134.01 175.97,132.60 178.63,131.20 181.30,129.82 183.98,128.45 186.67,127.10 189.38,125.76 192.10,124.44 194.83,123.13 197.58,121.84 200.34,120.57 203.11,119.31 205.89,118.06 208.68,116.84 211.49,115.62 214.30,114.43 217.13,113.25 219.97,112.08 222.82,110.93 225.68,109.80 228.55,108.68 231.43,107.58 234.32,106.49 237.22,105.42 240.14,104.37 243.06,103.33 245.99,102.31 248.93,101.30 251.88,100.31 254.84,99.34 257.80,98.38 260.78,97.44 263.76,96.51 266.76,95.60 269.76,94.71 272.77,93.83 275.79,92.97 278.81,92.12 281.85,91.29 284.89,90.48 287.93,89.68 290.99,88.90 294.05,88.14 297.12,87.39 300.20,86.66 303.28,85.94 306.37,85.24 309.46,84.56 312.56,83.90 315.67,83.24 318.78,82.61 321.90,81.99 325.03,81.39 328.16,80.81 331.29,80.24 334.43,79.69 337.57,79.15 340.72,78.63 343.88,78.13 347.04,77.64 350.20,77.17 353.36,76.72 356.54,76.28 359.71,75.86 362.89,75.45 366.07,75.07 369.25,74.70 372.44,74.34 375.63,74.00 378.83,73.68 382.03,73.37 385.23,73.08 388.43,72.81 391.63,72.56 394.84,72.32 398.05,72.09 401.26,71.89 404.47,71.70 407.69,71.52 410.90,71.37 414.12,71.23 417.34,71.10 420.56,70.99 423.78,70.90 427.00,70.83 430.22,70.77 433.44,70.73 436.66,70.71 439.88,70.70" fill="url(#lit)" stroke="none"/>
<path stroke="#000" stroke-width="1" fill="none" d="M420 70.5h39M399 71.5h21M459 71.5h21M386 72.5h13M480 72.5h13M375 73.5h11M493 73.5h11M366 74.5h9M503 74.5h10M358 75.5h8M513 75.5h8M351 76.5h7M521 76.5h7M344 77.5h7M528 77.5h7M338 78.5h6M535 78.5h6M332 79.5h6M541 79.5h6M327 80.5h5M547 80.5h5M321 81.5h6M552 81.5h6M316 82.5h5M558 82.5h5M312 83.5h4M563 83.5h4M307 84.5h5M567 84.5h5M303 85.5h4M572 85.5h4M298 86.5h5M576 86.5h5M294 87.5h4M581 87.5h4M290 88.5h4M585 88.5h4M287 89.5h3M589 89.5h4M283 90.5h4M593 90.5h4M279 91.5h4M597 91.5h3M275 92.5h4M600 92.5h4M272 93.5h3M604 93.5h3M268 94.5h4M607 94.5h4M265 95.5h3M611 95.5h3M262 96.5h3M614 96.5h3M259 97.5h3M617 97.5h3M256 98.5h3M620 98.5h4M253 99.5h3M624 99.5h3M250 100.5h3M627 100.5h2M247 101.5h3M629 101.5h3M244 102.5h3M632 102.5h3M241 103.5h3M635 103.5h3M238 104.5h3M638 104.5h3M235 105.5h3M641 105.5h3M233 106.5h2M644 106.5h2M230 107.5h3M646 107.5h3M227 108.5h3M649 108.5h3M225 109.5h2M652 109.5h2M222 110.5h3M654 110.5h3M220 111.5h2M657 111.5h2M217 112.5h3M659 112.5h3M215 113.5h2M662 113.5h2M213 114.5h2M664 114.5h2M210 115.5h3M666 115.5h3M208 116.5h2M669 116.5h2M206 117.5h2M671 117.5h2M203 118.5h3M673 118.5h3M201 119.5h2M676 119.5h2M199 120.5h2M678 120.5h2M197 121.5h2M680 121.5h2M195 122.5h2M682 122.5h2M193 123.5h2M684 123.5h2M191 124.5h2M686 124.5h3M189 125.5h2M186 126.5h3M690 126.5h3M182 128.5h3M694 128.5h3M697 129.5h2M179 130.5h2M177 131.5h2M700 131.5h2M175 132.5h2M702 132.5h2M173 133.5h2M704 133.5h2M171 134.5h2M706 134.5h2M169 135.5h2M251 135.5h2M708 135.5h2M166 137.5h2M711 137.5h2M164 138.5h2M713 138.5h2M162 139.5h2M715 139.5h2M159 141.5h2M718 141.5h2M157 142.5h2M720 142.5h2M722 143.5h2M154 144.5h2M152 145.5h2M725 145.5h2M150 146.5h2M727 146.5h2M147 148.5h2M730 148.5h2M144 150.5h2M733 150.5h2M735 151.5h2M141 152.5h2M138 154.5h2M739 154.5h2M135 156.5h2M742 156.5h2M132 158.5h2M745 158.5h2M129 160.5h2M748 160.5h2M125 163.5h2M752 163.5h2M122 165.5h2M755 165.5h2M117 169.5h2M760 169.5h2M113 172.5h2M764 172.5h2M108 176.5h2M769 176.5h2M101 182.5h2M776 182.5h2M784 189.5h2M814 223.5h4M810 224.5h4M807 225.5h3M803 226.5h4M344 227.5h2M799 227.5h4M795 228.5h4M791 229.5h4M787 230.5h4M784 231.5h3M780 232.5h4M776 233.5h4M772 234.5h4M768 235.5h4M764 236.5h4M760 237.5h4M757 238.5h3M753 239.5h4M749 240.5h4M745 241.5h4M741 242.5h4M737 243.5h4M46 244.5h2M734 244.5h3M48 245.5h5M730 245.5h4M53 246.5h5M726 246.5h4M58 247.5h6M722 247.5h4M64 248.5h5M718 248.5h4M69 249.5h5M714 249.5h4M74 250.5h5M710 250.5h4M79 251.5h5M707 251.5h3M84 252.5h5M703 252.5h4M89 253.5h5M699 253.5h4M94 254.5h5M695 254.5h4M99 255.5h6M691 255.5h4M105 256.5h5M687 256.5h4M110 257.5h5M684 257.5h3M115 258.5h5M680 258.5h4M120 259.5h5M676 259.5h4M125 260.5h5M672 260.5h4M130 261.5h5M668 261.5h4M135 262.5h5M664 262.5h4M140 263.5h6M660 263.5h4M146 264.5h5M657 264.5h3M151 265.5h5M653 265.5h4M156 266.5h5M649 266.5h4M161 267.5h5M645 267.5h4M841 267.5h6M166 268.5h5M641 268.5h4M834 268.5h7M171 269.5h5M637 269.5h4M826 269.5h8M176 270.5h5M634 270.5h3M818 270.5h8M181 271.5h6M630 271.5h4M811 271.5h7M187 272.5h5M626 272.5h4M803 272.5h8M192 273.5h5M622 273.5h4M796 273.5h7M197 274.5h5M618 274.5h4M788 274.5h8M202 275.5h5M614 275.5h4M781 275.5h7M207 276.5h5M611 276.5h3M773 276.5h8M212 277.5h5M607 277.5h4M766 277.5h7M217 278.5h5M603 278.5h4M758 278.5h8M222 279.5h6M599 279.5h4M751 279.5h7M228 280.5h5M595 280.5h4M743 280.5h8M233 281.5h5M591 281.5h4M736 281.5h7M238 282.5h5M587 282.5h4M728 282.5h8M243 283.5h5M584 283.5h3M721 283.5h7M248 284.5h5M580 284.5h4M713 284.5h8M253 285.5h5M576 285.5h4M706 285.5h7M258 286.5h6M572 286.5h4M698 286.5h8M264 287.5h5M568 287.5h4M691 287.5h7M269 288.5h5M564 288.5h4M683 288.5h8M274 289.5h5M561 289.5h3M676 289.5h7M279 290.5h5M557 290.5h4M668 290.5h8M284 291.5h5M553 291.5h4M661 291.5h7M289 292.5h5M549 292.5h4M653 292.5h8M294 293.5h5M545 293.5h4M646 293.5h7M299 294.5h6M541 294.5h4M638 294.5h8M305 295.5h5M537 295.5h4M631 295.5h7M310 296.5h5M534 296.5h3M623 296.5h8M315 297.5h5M530 297.5h4M616 297.5h7M320 298.5h5M526 298.5h4M608 298.5h8M325 299.5h5M522 299.5h4M601 299.5h7M330 300.5h5M518 300.5h4M593 300.5h8M335 301.5h5M514 301.5h4M586 301.5h7M340 302.5h6M511 302.5h3M578 302.5h8M346 303.5h5M507 303.5h4M571 303.5h7M351 304.5h5M503 304.5h4M563 304.5h8M356 305.5h5M499 305.5h4M556 305.5h7M361 306.5h5M495 306.5h4M548 306.5h8M366 307.5h5M438 307.5h2M491 307.5h4M541 307.5h7M371 308.5h5M438 308.5h2M487 308.5h4M533 308.5h8M376 309.5h5M438 309.5h2M484 309.5h3M526 309.5h7M381 310.5h6M438 310.5h2M480 310.5h4M518 310.5h8M387 311.5h5M438 311.5h2M476 311.5h4M511 311.5h7M392 312.5h5M438 312.5h2M472 312.5h4M503 312.5h8M397 313.5h5M438 313.5h2M468 313.5h4M496 313.5h7M402 314.5h5M438 314.5h2M464 314.5h4M488 314.5h8M407 315.5h5M461 315.5h3M481 315.5h7M412 316.5h5M457 316.5h4M473 316.5h8M417 317.5h5M439 317.5h2M453 317.5h4M466 317.5h7M422 318.5h6M439 318.5h2M449 318.5h4M458 318.5h8M428 319.5h5M439 319.5h2M445 319.5h4M451 319.5h7M433 320.5h18M437 321.5h15M431 322.5h11M452 322.5h22M425 323.5h6M435 323.5h2M439 323.5h5M474 323.5h23M419 324.5h6M432 324.5h3M440 324.5h2M443 324.5h3M497 324.5h23M413 325.5h6M430 325.5h2M440 325.5h3M444 325.5h4M520 325.5h23M407 326.5h6M428 326.5h2M440 326.5h4M445 326.5h5M543 326.5h22M400 327.5h7M426 327.5h2M441 327.5h3M447 327.5h5M565 327.5h23M394 328.5h6M423 328.5h3M441 328.5h4M452 328.5h2M588 328.5h23M388 329.5h6M421 329.5h2M441 329.5h4M449 329.5h4M611 329.5h23M382 330.5h6M419 330.5h2M441 330.5h2M444 330.5h2M455 330.5h2M634 330.5h23M376 331.5h6M417 331.5h2M443 331.5h2M454 331.5h2M457 331.5h2M657 331.5h22M370 332.5h6M414 332.5h3M442 332.5h2M445 332.5h2M453 332.5h2M456 332.5h2M459 332.5h2M679 332.5h23M364 333.5h6M412 333.5h2M442 333.5h2M461 333.5h2M702 333.5h23M358 334.5h6M410 334.5h2M446 334.5h2M459 334.5h2M463 334.5h2M725 334.5h23M352 335.5h6M408 335.5h2M457 335.5h2M465 335.5h2M748 335.5h22M345 336.5h7M405 336.5h3M462 336.5h2M467 336.5h2M770 336.5h23M339 337.5h6M403 337.5h2M793 337.5h23M333 338.5h6M401 338.5h2M461 338.5h2M465 338.5h2M470 338.5h2M816 338.5h23M327 339.5h6M399 339.5h2M467 339.5h2M472 339.5h2M839 339.5h23M321 340.5h6M396 340.5h3M474 340.5h2M862 340.5h8M315 341.5h6M394 341.5h2M465 341.5h2M470 341.5h2M476 341.5h2M309 342.5h6M392 342.5h2M478 342.5h2M303 343.5h6M390 343.5h2M473 343.5h2M480 343.5h2M297 344.5h6M387 344.5h3M469 344.5h2M290 345.5h7M385 345.5h2M476 345.5h2M483 345.5h2M284 346.5h6M383 346.5h2M478 346.5h2M485 346.5h2M278 347.5h6M381 347.5h2M473 347.5h2M487 347.5h2M272 348.5h6M378 348.5h3M481 348.5h2M489 348.5h2M266 349.5h6M376 349.5h2M491 349.5h2M260 350.5h6M374 350.5h2M477 350.5h2M484 350.5h2M493 350.5h2M254 351.5h6M372 351.5h2M495 351.5h2M248 352.5h6M370 352.5h2M487 352.5h2M242 353.5h6M367 353.5h3M481 353.5h2M489 353.5h2M498 353.5h2M236 354.5h6M365 354.5h2M500 354.5h2M229 355.5h7M363 355.5h2M492 355.5h2M502 355.5h2M223 356.5h6M361 356.5h2M504 356.5h2M217 357.5h6M358 357.5h3M486 357.5h2M495 357.5h2M506 357.5h2M211 358.5h6M356 358.5h2M508 358.5h2M205 359.5h6M354 359.5h2M498 359.5h2M510 359.5h2M199 360.5h6M352 360.5h2M490 360.5h2M500 360.5h2M193 361.5h6M349 361.5h3M513 361.5h2M187 362.5h6M347 362.5h2M503 362.5h2M515 362.5h2M181 363.5h6M345 363.5h2M494 363.5h2M517 363.5h2M174 364.5h7M343 364.5h2M506 364.5h2M519 364.5h2M168 365.5h6M340 365.5h3M521 365.5h2M162 366.5h6M338 366.5h2M498 366.5h2M509 366.5h2M523 366.5h2M156 367.5h6M336 367.5h2M511 367.5h2M150 368.5h6M334 368.5h2M526 368.5h2M144 369.5h6M331 369.5h3M502 369.5h2M514 369.5h2M528 369.5h2M138 370.5h6M329 370.5h2M530 370.5h2M132 371.5h6M327 371.5h2M517 371.5h2M532 371.5h2M126 372.5h6M325 372.5h2M506 372.5h2M534 372.5h2M120 373.5h6M322 373.5h3M520 373.5h2M536 373.5h2M114 374.5h6M320 374.5h2M522 374.5h2M538 374.5h2M108 375.5h6M318 375.5h2M510 375.5h2M101 376.5h7M316 376.5h2M525 376.5h2M541 376.5h2M95 377.5h6M313 377.5h3M543 377.5h2M89 378.5h6M311 378.5h2M514 378.5h2M528 378.5h2M545 378.5h2M83 379.5h6M309 379.5h2M547 379.5h2M77 380.5h6M307 380.5h2M531 380.5h2M549 380.5h2M71 381.5h6M304 381.5h3M518 381.5h2M533 381.5h2M551 381.5h2M65 382.5h6M302 382.5h2M553 382.5h2M59 383.5h6M300 383.5h2M536 383.5h2M53 384.5h6M298 384.5h2M556 384.5h2M46 385.5h7M295 385.5h3M523 385.5h2M539 385.5h2M558 385.5h2M40 386.5h6M293 386.5h2M560 386.5h2M34 387.5h6M291 387.5h2M542 387.5h2M562 387.5h2M28 388.5h6M289 388.5h2M527 388.5h2M544 388.5h2M564 388.5h2M22 389.5h6M286 389.5h3M566 389.5h2M16 390.5h6M284 390.5h2M547 390.5h2M568 390.5h2M9 391.5h7M282 391.5h2M531 391.5h2M280 392.5h2M550 392.5h2M571 392.5h2M278 393.5h2M573 393.5h2M275 394.5h3M535 394.5h2M553 394.5h2M575 394.5h2M273 395.5h2M555 395.5h2M577 395.5h2M271 396.5h2M579 396.5h2M269 397.5h2M539 397.5h2M558 397.5h2M581 397.5h2M266 398.5h3M264 399.5h2M561 399.5h2M584 399.5h2M262 400.5h2M543 400.5h2M586 400.5h2M260 401.5h2M564 401.5h2M588 401.5h2M257 402.5h3M566 402.5h2M590 402.5h2M255 403.5h2M547 403.5h2M592 403.5h2M253 404.5h2M569 404.5h2M594 404.5h2M251 405.5h2M596 405.5h2M248 406.5h3M551 406.5h2M572 406.5h2M246 407.5h2M599 407.5h2M244 408.5h2M575 408.5h2M601 408.5h2M242 409.5h2M555 409.5h2M577 409.5h2M603 409.5h2M239 410.5h3M605 410.5h2M237 411.5h2M580 411.5h2M607 411.5h2M12 412.5h2M235 412.5h2M559 412.5h2M609 412.5h2M233 413.5h2M583 413.5h2M611 413.5h2M230 414.5h3M228 415.5h2M586 415.5h2M614 415.5h2M865 415.5h2M226 416.5h2M564 416.5h2M588 416.5h2M616 416.5h2M224 417.5h2M618 417.5h2M222 418.5h2M591 418.5h2M620 418.5h2M219 419.5h3M568 419.5h2M622 419.5h2M864 419.5h2M217 420.5h2M594 420.5h2M624 420.5h2M864 420.5h2M14 421.5h2M215 421.5h2M213 422.5h2M572 422.5h2M597 422.5h2M627 422.5h2M210 423.5h3M599 423.5h2M629 423.5h2M863 423.5h2M15 424.5h2M208 424.5h2M631 424.5h2M863 424.5h2M15 425.5h2M206 425.5h2M576 425.5h2M602 425.5h2M633 425.5h2M863 425.5h2M15 426.5h2M204 426.5h2M635 426.5h2M862 426.5h2M201 427.5h3M605 427.5h2M637 427.5h2M862 427.5h2M16 428.5h2M199 428.5h2M580 428.5h2M639 428.5h2M862 428.5h2M16 429.5h2M197 429.5h2M608 429.5h2M862 429.5h2M16 430.5h2M195 430.5h2M610 430.5h2M642 430.5h2M193 431.5h2M584 431.5h2M644 431.5h2M861 431.5h2M17 432.5h2M190 432.5h3M613 432.5h2M646 432.5h2M861 432.5h2M17 433.5h2M188 433.5h2M648 433.5h2M186 434.5h2M588 434.5h2M616 434.5h2M650 434.5h2M184 435.5h2M652 435.5h2M860 435.5h2M181 436.5h3M619 436.5h2M654 436.5h2M179 437.5h2M592 437.5h2M621 437.5h2M177 438.5h2M657 438.5h2M175 439.5h2M624 439.5h2M659 439.5h2M172 440.5h3M596 440.5h2M661 440.5h2M170 441.5h2M627 441.5h2M663 441.5h2M168 442.5h2M665 442.5h2M166 443.5h2M600 443.5h2M630 443.5h2M667 443.5h2M163 444.5h3M632 444.5h2M161 445.5h2M670 445.5h2M159 446.5h2M635 446.5h2M672 446.5h2M157 447.5h2M605 447.5h2M674 447.5h2M154 448.5h3M638 448.5h2M676 448.5h2M152 449.5h2M678 449.5h2M150 450.5h2M609 450.5h2M641 450.5h2M680 450.5h2M148 451.5h2M643 451.5h2M682 451.5h2M145 452.5h3M143 453.5h2M613 453.5h2M646 453.5h2M685 453.5h2M141 454.5h2M687 454.5h2M139 455.5h2M649 455.5h2M689 455.5h2M136 456.5h3M617 456.5h2M691 456.5h2M134 457.5h2M652 457.5h2M693 457.5h2M132 458.5h2M654 458.5h2M695 458.5h2M130 459.5h2M621 459.5h2M697 459.5h2M127 460.5h3M657 460.5h2M125 461.5h2M700 461.5h2M123 462.5h2M625 462.5h2M660 462.5h2M702 462.5h2M121 463.5h2M704 463.5h2M118 464.5h3M663 464.5h2M706 464.5h2M116 465.5h2M629 465.5h2M665 465.5h2M708 465.5h2M114 466.5h2M710 466.5h2M112 467.5h2M668 467.5h2M109 468.5h3M633 468.5h2M713 468.5h2M107 469.5h2M671 469.5h2M715 469.5h2M105 470.5h2M717 470.5h2M103 471.5h2M637 471.5h2M674 471.5h2M719 471.5h2M101 472.5h2M676 472.5h2M721 472.5h2M98 473.5h3M723 473.5h2M96 474.5h2M679 474.5h2M725 474.5h2M94 475.5h2M642 475.5h2M92 476.5h2M682 476.5h2M728 476.5h2M89 477.5h3M730 477.5h2M87 478.5h2M646 478.5h2M685 478.5h2M732 478.5h2M85 479.5h2M687 479.5h2M734 479.5h2M83 480.5h2M736 480.5h2M80 481.5h3M650 481.5h2M690 481.5h2M738 481.5h2M78 482.5h2M740 482.5h2M76 483.5h2M693 483.5h2M74 484.5h2M654 484.5h2M743 484.5h2M71 485.5h3M696 485.5h2M745 485.5h2M69 486.5h2M698 486.5h2M747 486.5h2M67 487.5h2M658 487.5h2M749 487.5h2M65 488.5h2M701 488.5h2M751 488.5h2M62 489.5h3M753 489.5h2M60 490.5h2M662 490.5h2M704 490.5h2M58 491.5h2M756 491.5h2M56 492.5h2M707 492.5h2M758 492.5h2M53 493.5h3M666 493.5h2M709 493.5h2M760 493.5h2M51 494.5h2M762 494.5h2M49 495.5h2M712 495.5h2M764 495.5h2M670 496.5h2M766 496.5h2M50 497.5h2M715 497.5h2M768 497.5h2M674 499.5h2M718 499.5h2M771 499.5h2M720 500.5h2M773 500.5h2M775 501.5h2M678 502.5h2M723 502.5h2M777 502.5h2M779 503.5h2M726 504.5h2M781 504.5h2M783 505.5h2M683 506.5h2M729 506.5h2M731 507.5h2M786 507.5h2M788 508.5h2M687 509.5h2M734 509.5h2M790 509.5h2M792 510.5h2M737 511.5h2M794 511.5h2M691 512.5h2M796 512.5h2M740 513.5h2M742 514.5h2M799 514.5h2M695 515.5h2M801 515.5h2M745 516.5h2M803 516.5h2M805 517.5h2M699 518.5h2M748 518.5h2M807 518.5h2M809 519.5h2M751 520.5h2M809 520.5h2M703 521.5h2M753 521.5h2M756 523.5h2M707 524.5h2M759 525.5h2M711 527.5h2M762 527.5h2M764 528.5h2M715 530.5h2M767 530.5h2M770 532.5h2M720 534.5h2M773 534.5h2M775 535.5h2M724 537.5h2M778 537.5h2M781 539.5h2M728 540.5h2M784 541.5h2M786 542.5h3M732 543.5h2M787 543.5h2M786 544.5h2M736 546.5h2M98 549.5h2M740 549.5h2M744 552.5h2M777 552.5h2M60 553.5h2M105 555.5h2M748 555.5h2M752 558.5h2M770 558.5h2M111 560.5h2M756 561.5h2M765 562.5h2M115 563.5h2M761 565.5h2M119 566.5h2M760 566.5h2M757 568.5h2M123 569.5h2M753 571.5h2M127 572.5h2M750 573.5h2M131 575.5h2M746 576.5h2M134 577.5h2M799 577.5h2M743 578.5h2M137 579.5h2M798 579.5h2M740 580.5h2M140 581.5h2M737 582.5h2M143 583.5h2M734 584.5h2M146 585.5h2M732 585.5h2M148 586.5h2M729 587.5h2M151 588.5h2M726 589.5h2M154 590.5h2M723 591.5h2M157 592.5h2M721 592.5h2M159 593.5h2M719 593.5h2M161 594.5h2M716 595.5h2M164 596.5h2M714 596.5h2M166 597.5h2M712 597.5h2M168 598.5h2M710 598.5h2M170 599.5h2M172 600.5h2M707 600.5h2M705 601.5h2M777 601.5h2M175 602.5h2M703 602.5h2M177 603.5h2M701 603.5h2M179 604.5h2M699 604.5h2M181 605.5h2M697 605.5h2M183 606.5h2M185 607.5h2M693 607.5h3M108 608.5h2M187 608.5h2M691 608.5h2M189 609.5h2M689 609.5h2M191 610.5h2M687 610.5h2M193 611.5h2M685 611.5h2M195 612.5h2M683 612.5h2M766 612.5h2M197 613.5h2M681 613.5h2M199 614.5h3M679 614.5h2M116 615.5h2M202 615.5h2M676 615.5h3M204 616.5h2M674 616.5h2M206 617.5h2M672 617.5h2M208 618.5h3M670 618.5h2M759 618.5h2M211 619.5h2M667 619.5h3M213 620.5h2M665 620.5h2M123 621.5h2M215 621.5h3M663 621.5h2M218 622.5h2M660 622.5h3M220 623.5h3M658 623.5h2M752 623.5h3M223 624.5h2M655 624.5h3M128 625.5h2M225 625.5h3M653 625.5h2M228 626.5h2M650 626.5h3M749 626.5h2M230 627.5h3M648 627.5h2M132 628.5h2M233 628.5h3M645 628.5h3M236 629.5h2M642 629.5h3M238 630.5h3M639 630.5h3M744 630.5h2M136 631.5h2M241 631.5h3M636 631.5h3M244 632.5h3M634 632.5h2M741 632.5h2M139 633.5h2M247 633.5h3M631 633.5h3M250 634.5h3M627 634.5h4M253 635.5h3M625 635.5h3M737 635.5h2M256 636.5h3M622 636.5h3M144 637.5h2M259 637.5h3M618 637.5h4M262 638.5h3M615 638.5h3M733 638.5h2M147 639.5h2M265 639.5h4M612 639.5h3M731 639.5h2M149 640.5h2M269 640.5h3M608 640.5h4M272 641.5h4M605 641.5h3M276 642.5h3M601 642.5h4M727 642.5h2M153 643.5h2M279 643.5h4M597 643.5h4M283 644.5h4M594 644.5h3M724 644.5h2M156 645.5h2M287 645.5h4M590 645.5h4M158 646.5h2M291 646.5h3M586 646.5h4M721 646.5h2M294 647.5h4M582 647.5h4M719 647.5h2M161 648.5h2M298 648.5h5M577 648.5h5M303 649.5h4M573 649.5h4M716 649.5h2M164 650.5h2M307 650.5h5M569 650.5h4M714 650.5h2M166 651.5h2M312 651.5h5M564 651.5h5M317 652.5h4M559 652.5h5M711 652.5h2M169 653.5h2M321 653.5h6M553 653.5h6M327 654.5h6M547 654.5h6M708 654.5h2M172 655.5h2M332 655.5h6M542 655.5h6M706 655.5h2M174 656.5h2M338 656.5h6M536 656.5h6M176 657.5h2M344 657.5h7M530 657.5h6M703 657.5h2M178 658.5h2M351 658.5h7M522 658.5h8M701 658.5h2M358 659.5h8M514 659.5h8M699 659.5h2M181 660.5h2M366 660.5h9M504 660.5h10M697 660.5h2M183 661.5h2M375 661.5h10M495 661.5h10M695 661.5h2M185 662.5h2M385 662.5h13M482 662.5h13M187 663.5h2M398 663.5h19M463 663.5h19M692 663.5h2M189 664.5h2M417 664.5h46M690 664.5h2M191 665.5h2M688 665.5h2M193 666.5h2M686 666.5h2M195 667.5h2M684 667.5h2M197 668.5h2M682 668.5h2M199 669.5h2M680 669.5h2M201 670.5h2M678 670.5h2M203 671.5h2M676 671.5h2M205 672.5h2M674 672.5h2M207 673.5h2M672 673.5h2M209 674.5h2M669 674.5h3M211 675.5h2M667 675.5h2M213 676.5h2M665 676.5h2M215 677.5h3M663 677.5h2M218 678.5h2M661 678.5h2M220 679.5h2M658 679.5h3M222 680.5h3M656 680.5h2M225 681.5h2M654 681.5h2M227 682.5h2M651 682.5h3M229 683.5h3M649 683.5h2M232 684.5h2M646 684.5h3M234 685.5h3M644 685.5h2M237 686.5h2M641 686.5h3M239 687.5h3M638 687.5h3M242 688.5h3M636 688.5h2M245 689.5h2M633 689.5h3M247 690.5h3M630 690.5h3M250 691.5h3M627 691.5h3M253 692.5h3M625 692.5h2M256 693.5h2M622 693.5h3M258 694.5h3M619 694.5h3M261 695.5h3M616 695.5h3M264 696.5h3M613 696.5h3M267 697.5h4M610 697.5h3M271 698.5h3M607 698.5h3M274 699.5h3M603 699.5h4M277 700.5h4M600 700.5h3M281 701.5h3M596 701.5h4M284 702.5h4M593 702.5h3M288 703.5h3M589 703.5h4M291 704.5h4M585 704.5h4M295 705.5h4M581 705.5h4M299 706.5h4M577 706.5h4M303 707.5h4M573 707.5h4M307 708.5h5M569 708.5h4M312 709.5h4M564 709.5h5M316 710.5h5M560 710.5h4M321 711.5h5M555 711.5h5M326 712.5h5M550 712.5h5M331 713.5h5M543 713.5h7M335 714.5h7M539 714.5h5M342 715.5h6M533 715.5h6M348 716.5h6M526 716.5h7M354 717.5h7M519 717.5h7M361 718.5h8M511 718.5h8M369 719.5h9M502 719.5h9M378 720.5h10M493 720.5h10M388 721.5h13M480 721.5h13M401 722.5h20M460 722.5h20M421 723.5h39M8.5 349v38M9.5 340v9M9.5 387v4M9.5 392v4M10.5 333v7M10.5 396v6M11.5 328v5M11.5 402v6M12.5 323v5M12.5 408v4M13.5 319v4M13.5 413v4M14.5 315v4M14.5 417v4M15.5 311v4M15.5 422v2M16.5 308v3M16.5 427v1M16.5 431v1M17.5 305v3M17.5 434v3M18.5 301v4M18.5 431v1M18.5 437v4M19.5 299v2M19.5 434v3M19.5 441v5M20.5 296v3M20.5 437v3M20.5 446v5M21.5 293v3M21.5 440v3M21.5 451v5M22.5 290v3M22.5 443v2M22.5 456v5M23.5 288v2M23.5 445v3M23.5 461v5M24.5 286v2M24.5 448v2M24.5 466v5M25.5 283v3M25.5 450v2M25.5 471v5M26.5 281v2M26.5 452v3M26.5 476v4M27.5 279v2M27.5 455v2M27.5 480v3M28.5 277v2M28.5 457v2M28.5 483v4M29.5 275v2M29.5 459v2M29.5 487v3M30.5 273v2M30.5 461v2M30.5 490v4M31.5 271v2M31.5 463v2M31.5 494v2M32.5 269v2M32.5 465v2M32.5 496v3M33.5 267v2M33.5 467v2M33.5 499v3M34.5 265v2M34.5 469v2M34.5 502v3M35.5 263v2M35.5 471v2M35.5 505v2M36.5 261v2M36.5 473v2M36.5 507v3M37.5 259v2M37.5 475v1M37.5 510v2M38.5 258v1M38.5 476v2M38.5 512v2M39.5 256v2M39.5 478v2M39.5 514v3M40.5 254v2M40.5 480v2M40.5 517v2M41.5 253v1M41.5 482v1M41.5 519v2M42.5 251v2M42.5 483v2M42.5 521v2M43.5 249v2M43.5 485v1M43.5 523v2M44.5 248v1M44.5 486v2M44.5 525v2M45.5 246v2M45.5 488v2M45.5 527v2M46.5 245v1M46.5 490v1M46.5 529v2M47.5 243v1M47.5 491v2M47.5 531v2M48.5 242v1M48.5 493v1M48.5 533v1M49.5 240v2M49.5 494v1M49.5 534v2M50.5 239v1M50.5 496v1M50.5 498v2M50.5 536v2M51.5 237v2M51.5 500v5M51.5 538v2M52.5 236v1M52.5 498v2M52.5 505v5M52.5 540v2M53.5 235v1M53.5 500v1M53.5 510v5M53.5 542v1M54.5 233v2M54.5 501v1M54.5 515v5M54.5 543v2M55.5 232v1M55.5 502v2M55.5 520v5M55.5 545v2M56.5 231v1M56.5 504v1M56.5 525v5M56.5 547v1M57.5 229v2M57.5 505v1M57.5 530v6M57.5 548v2M58.5 228v1M58.5 506v2M58.5 536v5M58.5 550v1M59.5 227v1M59.5 508v1M59.5 541v5M59.5 551v2M60.5 226v1M60.5 509v1M60.5 546v5M61.5 224v2M61.5 510v2M61.5 551v2M61.5 554v2M62.5 223v1M62.5 512v1M62.5 556v1M63.5 222v1M63.5 513v1M63.5 557v2M64.5 221v1M64.5 514v1M64.5 559v1M65.5 219v2M65.5 515v1M65.5 560v1M66.5 218v1M66.5 516v2M66.5 561v2M67.5 217v1M67.5 518v1M67.5 563v1M68.5 216v1M68.5 519v1M68.5 564v1M69.5 215v1M69.5 520v1M69.5 565v2M70.5 214v1M70.5 521v1M70.5 567v1M71.5 213v1M71.5 522v1M71.5 568v1M72.5 211v2M72.5 523v1M72.5 569v2M73.5 210v1M73.5 524v1M73.5 571v1M74.5 209v1M74.5 525v1M74.5 572v1M75.5 208v1M75.5 526v1M75.5 573v1M76.5 207v1M76.5 527v1M76.5 574v2M77.5 206v1M77.5 528v1M77.5 576v1M78.5 205v1M78.5 529v1M78.5 577v1M79.5 204v1M79.5 530v1M79.5 578v1M80.5 203v1M80.5 531v1M80.5 579v2M81.5 202v1M81.5 532v1M81.5 581v1M82.5 201v1M82.5 533v1M82.5 582v1M83.5 200v1M83.5 534v1M83.5 583v1M84.5 199v1M84.5 535v1M84.5 584v1M85.5 198v1M85.5 536v1M85.5 585v1M86.5 197v1M86.5 537v1M86.5 586v1M87.5 196v1M87.5 538v1M87.5 587v1M88.5 195v1M88.5 539v1M88.5 588v1M89.5 194v1M89.5 540v1M89.5 589v1M90.5 193v1M90.5 541v1M90.5 590v1M91.5 192v1M91.5 542v1M91.5 591v1M92.5 191v1M92.5 543v1M92.5 592v1M93.5 190v1M93.5 544v1M93.5 593v1M94.5 189v1M94.5 545v1M94.5 594v1M95.5 188v1M95.5 546v1M95.5 595v1M96.5 187v1M96.5 547v1M96.5 596v1M97.5 186v1M97.5 548v1M97.5 597v1M98.5 185v1M98.5 598v1M99.5 184v1M99.5 599v1M100.5 183v1M100.5 550v1M100.5 600v1M101.5 551v1M101.5 601v1M102.5 552v1M102.5 602v1M103.5 181v1M103.5 553v1M103.5 603v1M104.5 180v1M104.5 554v1M104.5 604v1M105.5 179v1M105.5 605v1M106.5 178v1M106.5 606v1M107.5 177v1M107.5 556v1M107.5 607v1M108.5 557v1M109.5 558v1M110.5 175v1M110.5 559v1M110.5 609v1M111.5 174v1M111.5 610v1M112.5 173v1M112.5 611v1M113.5 561v1M113.5 612v1M114.5 562v1M114.5 613v1M115.5 171v1M115.5 614v1M116.5 170v1M117.5 564v1M118.5 565v1M118.5 616v1M119.5 168v1M119.5 617v1M120.5 167v1M120.5 618v1M121.5 166v1M121.5 567v1M121.5 619v1M122.5 568v1M122.5 620v1M124.5 164v1M125.5 570v1M125.5 622v1M126.5 571v1M126.5 623v1M127.5 162v1M127.5 624v1M128.5 161v1M129.5 573v1M130.5 574v1M130.5 626v1M131.5 159v1M131.5 627v1M133.5 576v1M134.5 157v1M134.5 629v1M135.5 630v1M136.5 578v1M137.5 155v1M138.5 632v1M139.5 580v1M140.5 153v1M141.5 634v1M142.5 582v1M142.5 635v1M143.5 151v1M143.5 636v1M145.5 584v1M146.5 149v1M146.5 638v1M149.5 147v1M150.5 587v1M151.5 641v1M152.5 642v1M153.5 589v1M155.5 644v1M156.5 143v1M156.5 591v1M160.5 647v1M161.5 140v1M163.5 595v1M163.5 649v1M168.5 136v1M168.5 652v1M171.5 654v1M174.5 601v1M180.5 659v1M181.5 129v1M185.5 127v1M226.5 110v1M227.5 111v1M228.5 112v1M229.5 113v1M230.5 114v1M231.5 115v1M232.5 116v1M233.5 117v1M234.5 118v1M235.5 119v1M236.5 120v1M237.5 121v1M238.5 122v1M239.5 123v1M240.5 124v1M241.5 125v1M242.5 126v1M243.5 127v1M244.5 128v1M245.5 129v1M246.5 130v1M247.5 131v1M248.5 132v1M249.5 133v1M250.5 134v1M253.5 136v1M254.5 137v1M255.5 138v1M256.5 139v1M257.5 140v1M258.5 141v1M259.5 142v1M260.5 143v1M261.5 144v1M262.5 145v1M263.5 146v1M264.5 147v1M265.5 148v1M266.5 149v1M267.5 150v1M268.5 151v1M269.5 152v1M270.5 153v1M271.5 154v1M272.5 155v1M273.5 156v1M274.5 157v1M275.5 158v1M276.5 159v1M277.5 160v1M278.5 161v1M279.5 162v1M280.5 163v1M281.5 164v1M282.5 165v1M283.5 166v1M284.5 167v1M285.5 168v1M286.5 169v1M287.5 170v1M288.5 171v1M289.5 172v1M290.5 173v1M291.5 174v1M292.5 175v1M293.5 176v1M294.5 177v1M295.5 178v1M296.5 179v1M297.5 180v1M298.5 181v1M299.5 182v1M300.5 183v1M301.5 184v1M302.5 185v1M303.5 186v1M304.5 187v1M305.5 188v1M306.5 189v1M307.5 190v1M308.5 191v1M309.5 192v1M310.5 193v1M311.5 194v1M312.5 195v1M313.5 196v1M314.5 197v1M315.5 198v1M316.5 199v1M317.5 200v1M318.5 201v1M319.5 202v1M320.5 203v1M321.5 204v1M322.5 205v1M323.5 206v1M324.5 207v1M325.5 208v1M326.5 209v1M327.5 210v1M328.5 211v1M329.5 212v1M330.5 213v1M331.5 214v1M332.5 215v1M332.5 653v1M332.5 656v7M333.5 216v1M333.5 650v3M333.5 663v17M334.5 217v1M334.5 647v3M334.5 680v17M335.5 218v1M335.5 644v3M335.5 697v16M336.5 219v1M336.5 641v3M337.5 220v1M337.5 638v3M338.5 221v1M338.5 635v3M339.5 222v1M339.5 631v4M340.5 223v1M340.5 628v3M341.5 224v1M341.5 625v3M342.5 225v1M342.5 622v3M343.5 226v1M343.5 619v3M344.5 616v3M345.5 613v3M346.5 228v1M346.5 610v3M347.5 229v1M347.5 607v3M348.5 230v1M348.5 604v3M349.5 231v1M349.5 600v4M350.5 232v1M350.5 597v3M351.5 233v1M351.5 594v3M352.5 234v1M352.5 591v3M353.5 235v1M353.5 588v3M354.5 236v1M354.5 585v3M355.5 237v1M355.5 582v3M356.5 238v1M356.5 579v3M357.5 239v1M357.5 576v3M358.5 240v1M358.5 572v4M359.5 241v1M359.5 569v3M360.5 242v1M360.5 566v3M361.5 243v1M361.5 563v3M362.5 244v1M362.5 560v3M363.5 245v1M363.5 557v3M364.5 246v1M364.5 554v3M365.5 247v1M365.5 551v3M366.5 248v1M366.5 548v3M367.5 249v1M367.5 544v4M368.5 250v1M368.5 541v3M369.5 251v1M369.5 538v3M370.5 252v1M370.5 535v3M371.5 253v1M371.5 532v3M372.5 254v1M372.5 529v3M373.5 255v1M373.5 526v3M374.5 256v1M374.5 523v3M375.5 257v1M375.5 520v3M376.5 258v1M376.5 516v4M377.5 259v1M377.5 513v3M378.5 260v1M378.5 510v3M379.5 261v1M379.5 507v3M380.5 262v1M380.5 504v3M381.5 263v1M381.5 501v3M382.5 264v1M382.5 498v3M383.5 265v1M383.5 495v3M384.5 266v1M384.5 492v3M385.5 267v1M385.5 489v3M386.5 268v1M386.5 485v4M387.5 269v1M387.5 482v3M388.5 270v1M388.5 479v3M389.5 271v1M389.5 476v3M390.5 272v1M390.5 473v3M391.5 273v1M391.5 470v3M392.5 274v1M392.5 467v3M393.5 275v1M393.5 464v3M394.5 276v1M394.5 461v3M395.5 277v1M395.5 457v4M396.5 278v1M396.5 454v3M397.5 279v1M397.5 451v3M398.5 280v1M398.5 448v3M399.5 281v1M399.5 445v3M400.5 282v1M400.5 442v3M401.5 283v1M401.5 439v3M402.5 284v1M402.5 436v3M403.5 285v1M403.5 433v3M404.5 286v1M404.5 429v4M405.5 287v1M405.5 426v3M406.5 288v1M406.5 423v3M407.5 289v1M407.5 420v3M408.5 72v7M408.5 290v1M408.5 417v3M409.5 79v8M409.5 291v1M409.5 414v3M410.5 87v7M410.5 292v1M410.5 411v3M411.5 94v8M411.5 293v1M411.5 408v3M412.5 102v8M412.5 294v1M412.5 405v3M413.5 110v8M413.5 295v1M413.5 401v4M414.5 118v8M414.5 296v1M414.5 398v3M415.5 126v8M415.5 297v1M415.5 395v3M416.5 134v8M416.5 298v1M416.5 392v3M417.5 142v7M417.5 299v1M417.5 389v3M418.5 149v8M418.5 300v1M418.5 386v3M419.5 157v8M419.5 301v1M419.5 383v3M420.5 165v8M420.5 302v1M420.5 380v3M421.5 173v8M421.5 303v1M421.5 377v3M422.5 181v8M422.5 304v1M422.5 373v4M423.5 189v8M423.5 305v1M423.5 370v3M424.5 197v8M424.5 306v1M424.5 367v3M425.5 205v7M425.5 307v1M425.5 364v3M426.5 212v8M426.5 308v1M426.5 361v3M427.5 220v8M427.5 309v1M427.5 358v3M428.5 228v8M428.5 310v1M428.5 355v3M429.5 236v8M429.5 311v1M429.5 352v3M430.5 244v8M430.5 312v1M430.5 349v3M431.5 252v8M431.5 313v1M431.5 346v3M432.5 260v8M432.5 314v1M432.5 342v4M433.5 268v7M433.5 315v1M433.5 339v3M434.5 275v8M434.5 316v1M434.5 336v3M435.5 283v8M435.5 317v1M435.5 333v3M436.5 291v8M436.5 318v1M436.5 330v3M437.5 299v8M437.5 319v1M437.5 327v3M438.5 324v3M439.5 71v236M439.5 315v2M441.5 313v4M441.5 331v1M442.5 310v3M442.5 334v3M443.5 306v4M443.5 337v6M444.5 302v4M444.5 334v3M444.5 343v5M445.5 298v4M445.5 333v1M445.5 337v3M445.5 348v5M446.5 294v4M446.5 331v1M446.5 335v2M446.5 340v3M446.5 353v5M447.5 290v4M447.5 333v1M447.5 337v2M447.5 343v3M447.5 358v5M448.5 286v4M448.5 328v1M448.5 335v1M448.5 339v2M448.5 346v3M448.5 363v6M449.5 282v4M449.5 336v2M449.5 341v2M449.5 349v3M449.5 369v5M450.5 279v3M450.5 328v1M450.5 338v2M450.5 343v2M450.5 352v4M450.5 374v5M451.5 275v4M451.5 330v1M451.5 340v1M451.5 345v2M451.5 356v3M451.5 379v5M452.5 271v4M452.5 331v1M452.5 341v2M452.5 347v3M452.5 359v3M452.5 384v6M453.5 267v4M453.5 330v1M453.5 343v2M453.5 350v2M453.5 362v3M453.5 390v5M454.5 263v4M454.5 329v1M454.5 345v1M454.5 352v2M454.5 365v3M454.5 395v5M455.5 259v4M455.5 333v1M455.5 346v2M455.5 354v2M455.5 368v3M455.5 400v5M456.5 255v4M456.5 334v1M456.5 348v2M456.5 356v2M456.5 371v3M456.5 405v6M457.5 251v4M457.5 350v1M457.5 358v3M457.5 374v3M457.5 411v5M458.5 247v4M458.5 333v1M458.5 351v2M458.5 361v2M458.5 377v3M458.5 416v5M459.5 243v4M459.5 336v1M459.5 353v2M459.5 363v2M459.5 380v4M459.5 421v5M460.5 239v4M460.5 337v1M460.5 355v1M460.5 365v2M460.5 384v3M460.5 426v6M461.5 236v3M461.5 335v1M461.5 356v2M461.5 367v2M461.5 387v3M461.5 432v5M462.5 232v4M462.5 358v2M462.5 369v3M462.5 390v3M462.5 437v5M463.5 228v4M463.5 339v1M463.5 360v1M463.5 372v2M463.5 393v3M463.5 442v5M464.5 224v4M464.5 337v1M464.5 340v1M464.5 361v2M464.5 374v2M464.5 396v3M464.5 447v5M465.5 220v4M465.5 363v2M465.5 376v2M465.5 399v3M465.5 452v6M466.5 216v4M466.5 365v1M466.5 378v2M466.5 402v3M466.5 458v5M467.5 212v4M467.5 342v1M467.5 366v2M467.5 380v2M467.5 405v3M467.5 463v5M468.5 208v4M468.5 343v1M468.5 368v2M468.5 382v3M468.5 408v4M468.5 468v5M469.5 204v4M469.5 337v1M469.5 340v1M469.5 370v1M469.5 385v2M469.5 412v3M469.5 473v6M470.5 200v4M470.5 371v2M470.5 387v2M470.5 415v3M470.5 479v5M471.5 196v4M471.5 345v1M471.5 373v2M471.5 389v2M471.5 418v3M471.5 484v5M472.5 193v3M472.5 342v1M472.5 346v1M472.5 375v1M472.5 391v2M472.5 421v3M472.5 489v5M473.5 189v4M473.5 376v2M473.5 393v3M473.5 424v3M473.5 494v6M474.5 185v4M474.5 378v2M474.5 396v2M474.5 427v3M474.5 500v5M475.5 181v4M475.5 344v1M475.5 348v1M475.5 380v1M475.5 398v2M475.5 430v3M475.5 505v5M476.5 177v4M476.5 349v1M476.5 381v2M476.5 400v2M476.5 433v3M476.5 510v5M477.5 173v4M477.5 383v2M477.5 402v2M477.5 436v3M477.5 515v5M478.5 169v4M478.5 385v1M478.5 404v3M478.5 439v4M478.5 520v6M479.5 165v4M479.5 351v1M479.5 386v2M479.5 407v2M479.5 443v3M479.5 526v5M480.5 161v4M480.5 347v1M480.5 352v1M480.5 388v2M480.5 409v2M480.5 446v3M480.5 531v5M481.5 157v4M481.5 390v1M481.5 411v2M481.5 449v3M481.5 536v5M482.5 153v4M482.5 344v1M482.5 391v2M482.5 413v2M482.5 452v3M482.5 541v6M483.5 150v3M483.5 349v1M483.5 354v1M483.5 393v2M483.5 415v2M483.5 455v3M483.5 547v5M484.5 146v4M484.5 355v1M484.5 395v1M484.5 417v3M484.5 458v3M484.5 552v5M485.5 142v4M485.5 356v1M485.5 396v2M485.5 420v2M485.5 461v3M485.5 557v5M486.5 138v4M486.5 351v1M486.5 398v2M486.5 422v2M486.5 464v3M486.5 562v6M487.5 134v4M487.5 400v1M487.5 424v2M487.5 467v4M487.5 568v5M488.5 130v4M488.5 358v1M488.5 401v2M488.5 426v2M488.5 471v3M488.5 573v5M489.5 126v4M489.5 359v1M489.5 403v1M489.5 428v3M489.5 474v3M489.5 578v5M490.5 122v4M490.5 404v2M490.5 431v2M490.5 477v3M490.5 583v6M491.5 118v4M491.5 354v1M491.5 406v2M491.5 433v2M491.5 480v3M491.5 589v5M492.5 114v4M492.5 361v1M492.5 408v1M492.5 435v2M492.5 483v3M492.5 594v5M493.5 110v4M493.5 362v1M493.5 409v2M493.5 437v2M493.5 486v3M493.5 599v5M494.5 107v3M494.5 356v1M494.5 411v2M494.5 439v3M494.5 489v3M494.5 604v5M495.5 103v4M495.5 413v1M495.5 442v2M495.5 492v3M495.5 609v6M496.5 99v4M496.5 364v1M496.5 414v2M496.5 444v2M496.5 495v4M496.5 615v5M497.5 95v4M497.5 352v1M497.5 358v1M497.5 365v1M497.5 416v2M497.5 446v2M497.5 499v3M497.5 620v5M498.5 91v4M498.5 418v1M498.5 448v2M498.5 502v3M498.5 625v5M499.5 87v4M499.5 419v2M499.5 450v2M499.5 505v3M499.5 630v6M500.5 83v4M500.5 367v1M500.5 421v2M500.5 452v3M500.5 508v3M500.5 636v5M501.5 79v4M501.5 368v1M501.5 423v1M501.5 455v2M501.5 511v3M501.5 641v5M502.5 75v4M502.5 361v1M502.5 424v2M502.5 457v2M502.5 514v3M502.5 646v5M502.5 711v8M503.5 426v2M503.5 459v2M503.5 517v3M503.5 651v6M503.5 683v28M504.5 370v1M504.5 428v1M504.5 461v2M504.5 520v3M504.5 657v3M504.5 662v21M505.5 363v1M505.5 371v1M505.5 429v2M505.5 463v3M505.5 523v4M506.5 431v2M506.5 466v2M506.5 527v3M507.5 433v1M507.5 468v2M507.5 530v3M508.5 365v1M508.5 373v1M508.5 434v2M508.5 470v2M508.5 533v3M509.5 374v1M509.5 436v2M509.5 472v2M509.5 536v3M510.5 438v1M510.5 474v3M510.5 539v3M511.5 439v2M511.5 477v2M511.5 542v3M512.5 360v1M512.5 376v1M512.5 441v2M512.5 479v2M512.5 545v3M513.5 368v1M513.5 377v1M513.5 443v1M513.5 481v2M513.5 548v3M514.5 444v2M514.5 483v2M514.5 551v4M515.5 446v2M515.5 485v2M515.5 555v3M516.5 370v1M516.5 379v1M516.5 448v1M516.5 487v3M516.5 558v3M517.5 380v1M517.5 449v2M517.5 490v2M517.5 561v3M518.5 451v2M518.5 492v2M518.5 564v3M519.5 372v1M519.5 453v1M519.5 494v2M519.5 567v3M520.5 382v1M520.5 454v2M520.5 496v2M520.5 570v3M521.5 383v1M521.5 456v2M521.5 498v3M521.5 573v3M522.5 384v1M522.5 458v1M522.5 501v2M522.5 576v3M523.5 459v2M523.5 503v2M523.5 579v3M524.5 375v1M524.5 461v2M524.5 505v2M524.5 582v4M525.5 367v1M525.5 386v1M525.5 463v1M525.5 507v2M525.5 586v3M526.5 387v1M526.5 464v2M526.5 509v3M526.5 589v3M527.5 377v1M527.5 466v2M527.5 512v2M527.5 592v3M528.5 468v1M528.5 514v2M528.5 595v3M529.5 389v1M529.5 469v2M529.5 516v2M529.5 598v3M530.5 379v1M530.5 390v1M530.5 471v2M530.5 518v2M530.5 601v3M531.5 473v1M531.5 520v2M531.5 604v3M532.5 474v2M532.5 522v3M532.5 607v3M533.5 392v1M533.5 476v2M533.5 525v2M533.5 610v4M534.5 393v1M534.5 478v1M534.5 527v2M534.5 614v3M535.5 382v1M535.5 479v2M535.5 529v2M535.5 617v3M536.5 481v2M536.5 531v2M536.5 620v3M537.5 395v1M537.5 483v1M537.5 533v3M537.5 623v3M538.5 384v1M538.5 396v1M538.5 484v2M538.5 536v2M538.5 626v3M539.5 486v2M539.5 538v2M539.5 629v3M540.5 375v1M540.5 488v1M540.5 540v2M540.5 632v3M541.5 386v1M541.5 398v1M541.5 489v2M541.5 542v2M541.5 635v3M542.5 399v1M542.5 491v2M542.5 544v3M542.5 638v4M543.5 493v1M543.5 547v2M543.5 642v3M543.5 711v2M544.5 494v2M544.5 549v2M544.5 645v3M544.5 693v18M545.5 401v1M545.5 496v2M545.5 551v2M545.5 648v3M545.5 676v17M546.5 389v1M546.5 402v1M546.5 498v1M546.5 553v2M546.5 651v3M546.5 659v17M547.5 499v2M547.5 555v2M547.5 656v3M548.5 501v2M548.5 557v3M549.5 391v1M549.5 404v1M549.5 503v1M549.5 560v2M550.5 405v1M550.5 504v2M550.5 562v2M551.5 506v2M551.5 564v2M552.5 393v1M552.5 508v1M552.5 566v2M553.5 407v1M553.5 509v2M553.5 568v3M554.5 408v1M554.5 511v2M554.5 571v2M555.5 383v1M555.5 513v1M555.5 573v2M556.5 514v2M556.5 575v2M557.5 396v1M557.5 410v1M557.5 516v2M557.5 577v2M558.5 411v1M558.5 518v1M558.5 579v3M559.5 519v2M559.5 582v2M560.5 398v1M560.5 521v2M560.5 584v2M561.5 413v1M561.5 523v1M561.5 586v2M562.5 414v1M562.5 524v2M562.5 588v2M563.5 400v1M563.5 415v1M563.5 526v2M563.5 590v2M564.5 528v1M564.5 592v3M565.5 529v2M565.5 595v2M566.5 417v1M566.5 531v2M566.5 597v2M567.5 418v1M567.5 533v1M567.5 599v2M568.5 403v1M568.5 534v2M568.5 601v2M569.5 536v2M569.5 603v3M570.5 391v1M570.5 420v1M570.5 538v1M570.5 606v2M571.5 405v1M571.5 421v1M571.5 539v2M571.5 608v2M572.5 541v2M572.5 610v2M573.5 543v1M573.5 612v2M574.5 407v1M574.5 423v1M574.5 544v2M574.5 614v3M575.5 424v1M575.5 546v2M575.5 617v2M576.5 548v1M576.5 619v2M577.5 549v2M577.5 621v2M578.5 426v1M578.5 551v2M578.5 623v2M579.5 410v1M579.5 427v1M579.5 553v1M579.5 625v2M580.5 554v2M580.5 627v3M581.5 556v2M581.5 630v2M582.5 412v1M582.5 429v1M582.5 558v1M582.5 632v2M583.5 398v1M583.5 430v1M583.5 559v2M583.5 634v2M583.5 702v3M584.5 561v2M584.5 636v2M584.5 689v13M585.5 414v1M585.5 563v1M585.5 638v3M585.5 677v12M586.5 432v1M586.5 564v2M586.5 641v2M586.5 664v13M587.5 433v1M587.5 566v2M587.5 643v2M587.5 652v12M588.5 568v1M588.5 645v1M588.5 647v5M589.5 569v2M590.5 417v1M590.5 435v1M590.5 571v2M591.5 436v1M591.5 573v1M592.5 574v2M593.5 419v1M593.5 576v2M594.5 438v1M594.5 578v1M595.5 439v1M595.5 579v2M596.5 421v1M596.5 581v2M597.5 583v1M598.5 406v1M598.5 441v1M598.5 584v2M599.5 442v1M599.5 586v2M600.5 588v1M601.5 424v1M601.5 589v2M602.5 444v1M602.5 591v2M603.5 445v1M603.5 593v1M604.5 426v1M604.5 446v1M604.5 594v2M605.5 596v2M606.5 598v1M607.5 428v1M607.5 448v1M607.5 599v2M608.5 449v1M608.5 601v2M609.5 603v1M610.5 604v2M611.5 451v1M611.5 606v2M612.5 431v1M612.5 452v1M612.5 608v1M613.5 414v1M613.5 609v2M614.5 611v2M615.5 433v1M615.5 454v1M615.5 613v1M616.5 455v1M616.5 614v2M617.5 616v2M618.5 435v1M618.5 618v1M619.5 457v1M619.5 619v2M620.5 458v1M620.5 621v2M621.5 623v1M622.5 624v2M622.5 684v9M623.5 438v1M623.5 460v1M623.5 626v2M623.5 675v9M624.5 461v1M624.5 628v1M624.5 665v10M625.5 629v2M625.5 655v10M626.5 421v1M626.5 440v1M626.5 631v2M626.5 645v10M627.5 463v1M627.5 633v1M627.5 636v9M628.5 464v1M629.5 442v1M631.5 466v1M632.5 467v1M634.5 445v1M635.5 469v1M636.5 470v1M637.5 447v1M639.5 472v1M640.5 449v1M640.5 473v1M641.5 429v1M641.5 474v1M644.5 476v1M645.5 452v1M645.5 477v1M648.5 454v1M648.5 479v1M649.5 480v1M651.5 456v1M652.5 482v1M653.5 483v1M656.5 437v1M656.5 459v1M656.5 485v1M657.5 486v1M659.5 461v1M660.5 488v1M661.5 489v1M662.5 463v1M664.5 491v1M665.5 492v1M667.5 466v1M668.5 494v1M669.5 444v1M669.5 495v1M670.5 468v1M672.5 497v1M673.5 470v1M673.5 498v1M676.5 500v1M677.5 501v1M678.5 473v1M680.5 503v1M681.5 475v1M681.5 504v1M682.5 505v1M684.5 452v1M684.5 477v1M685.5 507v1M686.5 508v1M689.5 125v1M689.5 480v1M689.5 510v1M690.5 511v1M692.5 482v1M693.5 127v1M693.5 513v1M694.5 514v1M694.5 662v1M695.5 484v1M696.5 606v1M697.5 516v1M698.5 517v1M699.5 130v1M699.5 460v1M700.5 487v1M701.5 519v1M702.5 520v1M703.5 489v1M705.5 522v1M705.5 656v1M706.5 491v1M706.5 523v1M709.5 525v1M709.5 599v1M710.5 136v1M710.5 526v1M710.5 653v1M711.5 494v1M712.5 467v1M713.5 528v1M713.5 651v1M714.5 496v1M714.5 529v1M717.5 140v1M717.5 498v1M717.5 531v1M718.5 532v1M718.5 594v1M718.5 648v1M719.5 533v1M722.5 501v1M722.5 535v1M723.5 536v1M723.5 645v1M724.5 144v1M725.5 503v1M725.5 590v1M726.5 538v1M726.5 643v1M727.5 475v1M727.5 539v1M728.5 505v1M728.5 588v1M729.5 147v1M729.5 641v1M730.5 541v1M730.5 640v1M731.5 542v1M731.5 586v1M732.5 149v1M733.5 508v1M734.5 544v1M735.5 545v1M735.5 637v1M736.5 510v1M736.5 583v1M736.5 636v1M737.5 152v1M738.5 153v1M738.5 547v1M739.5 512v1M739.5 548v1M739.5 581v1M739.5 634v1M740.5 633v1M741.5 155v1M742.5 483v1M742.5 550v1M742.5 579v1M743.5 551v1M743.5 631v1M744.5 157v1M744.5 515v1M745.5 577v1M746.5 553v1M746.5 629v1M747.5 159v1M747.5 517v1M747.5 554v1M747.5 628v1M748.5 575v1M748.5 627v1M749.5 574v1M750.5 161v1M750.5 519v1M750.5 556v1M751.5 162v1M751.5 557v1M751.5 625v1M752.5 572v1M752.5 619v4M752.5 624v1M753.5 613v6M754.5 164v1M754.5 559v1M754.5 607v6M755.5 490v1M755.5 522v1M755.5 560v1M755.5 570v1M755.5 601v6M755.5 622v1M756.5 569v1M756.5 595v6M756.5 621v1M757.5 166v1M757.5 589v6M757.5 620v1M758.5 167v1M758.5 524v1M758.5 562v1M758.5 583v6M758.5 619v1M759.5 168v1M759.5 563v1M759.5 567v1M759.5 577v6M760.5 564v1M760.5 571v6M761.5 526v1M761.5 567v4M761.5 617v1M762.5 170v1M762.5 616v1M763.5 171v1M763.5 564v1M763.5 615v1M764.5 563v1M764.5 614v1M765.5 613v1M766.5 173v1M766.5 529v1M767.5 174v1M767.5 561v1M768.5 175v1M768.5 560v1M768.5 611v1M769.5 531v1M769.5 559v1M769.5 610v1M770.5 498v1M770.5 609v1M771.5 177v1M771.5 608v1M772.5 178v1M772.5 533v1M772.5 557v1M772.5 607v1M773.5 179v1M773.5 556v1M773.5 606v1M774.5 180v1M774.5 555v1M774.5 605v1M775.5 181v1M775.5 554v1M775.5 604v1M776.5 553v1M776.5 603v1M777.5 536v1M777.5 599v2M777.5 602v1M778.5 183v1M778.5 594v5M779.5 184v1M779.5 551v1M779.5 588v6M779.5 600v1M780.5 185v1M780.5 538v1M780.5 550v1M780.5 582v6M780.5 599v1M781.5 186v1M781.5 549v1M781.5 577v5M781.5 598v1M782.5 187v1M782.5 548v1M782.5 571v6M782.5 597v1M783.5 188v1M783.5 540v1M783.5 547v1M783.5 566v5M783.5 596v1M784.5 546v1M784.5 560v6M784.5 595v1M785.5 506v1M785.5 545v1M785.5 554v6M785.5 594v1M786.5 190v1M786.5 549v5M786.5 593v1M787.5 191v1M787.5 545v4M787.5 592v1M788.5 192v1M788.5 591v1M789.5 193v1M789.5 541v1M789.5 589v2M790.5 194v1M790.5 540v1M790.5 588v1M791.5 195v1M791.5 539v1M791.5 587v1M792.5 196v1M792.5 538v1M792.5 586v1M793.5 197v1M793.5 537v1M793.5 585v1M794.5 198v1M794.5 536v1M794.5 584v1M795.5 199v1M795.5 535v1M795.5 583v1M796.5 200v1M796.5 534v1M796.5 582v1M797.5 201v1M797.5 533v1M797.5 581v1M798.5 202v1M798.5 513v1M798.5 532v1M798.5 580v1M799.5 203v1M799.5 531v1M799.5 576v1M799.5 578v1M800.5 204v1M800.5 530v1M800.5 571v5M801.5 205v1M801.5 529v1M801.5 566v5M801.5 576v1M802.5 206v1M802.5 528v1M802.5 560v6M802.5 575v1M803.5 207v1M803.5 527v1M803.5 555v5M803.5 573v2M804.5 208v1M804.5 526v1M804.5 549v6M804.5 572v1M805.5 209v1M805.5 525v1M805.5 544v5M805.5 571v1M806.5 210v1M806.5 524v1M806.5 539v5M806.5 570v1M807.5 211v1M807.5 522v2M807.5 533v6M807.5 568v2M808.5 212v1M808.5 521v1M808.5 528v5M808.5 567v1M809.5 213v1M809.5 523v5M809.5 566v1M810.5 214v1M810.5 521v2M810.5 564v2M811.5 215v2M811.5 518v1M811.5 563v1M812.5 217v1M812.5 517v1M812.5 562v1M813.5 218v1M813.5 515v2M813.5 560v2M814.5 219v1M814.5 514v1M814.5 559v1M815.5 220v1M815.5 513v1M815.5 557v2M816.5 221v2M816.5 512v1M816.5 556v1M817.5 511v1M817.5 555v1M818.5 224v1M818.5 509v2M818.5 553v2M819.5 225v1M819.5 508v1M819.5 552v1M820.5 226v2M820.5 507v1M820.5 550v2M821.5 228v1M821.5 505v2M821.5 548v2M822.5 229v1M822.5 504v1M822.5 547v1M823.5 230v2M823.5 503v1M823.5 545v2M824.5 232v1M824.5 501v2M824.5 544v1M825.5 233v1M825.5 500v1M825.5 542v2M826.5 234v2M826.5 499v1M826.5 541v1M827.5 236v1M827.5 497v2M827.5 539v2M828.5 237v1M828.5 496v1M828.5 537v2M829.5 238v2M829.5 494v2M829.5 535v2M830.5 240v1M830.5 493v1M830.5 533v2M831.5 241v2M831.5 492v1M831.5 532v1M832.5 243v1M832.5 490v2M832.5 530v2M833.5 244v2M833.5 489v1M833.5 528v2M834.5 246v2M834.5 487v2M834.5 526v2M835.5 248v1M835.5 485v2M835.5 524v2M836.5 249v2M836.5 484v1M836.5 522v2M837.5 251v1M837.5 482v2M837.5 520v2M838.5 252v2M838.5 481v1M838.5 517v3M839.5 254v1M839.5 479v2M839.5 515v2M840.5 255v2M840.5 477v2M840.5 513v2M841.5 257v2M841.5 475v2M841.5 511v2M842.5 259v2M842.5 474v1M842.5 508v3M843.5 261v2M843.5 472v2M843.5 506v2M844.5 263v1M844.5 470v2M844.5 503v3M845.5 264v2M845.5 468v2M845.5 501v2M846.5 266v1M846.5 466v2M846.5 498v3M847.5 268v2M847.5 464v2M847.5 495v3M848.5 270v2M848.5 462v2M848.5 492v3M849.5 272v2M849.5 460v2M849.5 489v3M850.5 274v2M850.5 458v2M850.5 486v3M851.5 276v3M851.5 456v2M851.5 482v4M852.5 279v2M852.5 454v2M852.5 478v4M853.5 281v2M853.5 451v3M853.5 474v4M854.5 283v2M854.5 449v2M854.5 469v5M855.5 285v3M855.5 446v3M855.5 465v4M856.5 288v2M856.5 444v2M856.5 460v5M857.5 290v3M857.5 441v3M857.5 455v5M858.5 293v3M858.5 439v2M858.5 450v5M859.5 296v3M859.5 436v3M859.5 445v5M860.5 299v2M860.5 433v2M860.5 440v5M861.5 301v4M861.5 430v1M861.5 436v4M862.5 305v3M862.5 433v2M863.5 308v3M863.5 430v1M864.5 311v4M864.5 421v2M865.5 315v4M865.5 416v3M866.5 319v5M866.5 411v4M867.5 324v5M867.5 406v5M868.5 329v5M868.5 400v6M869.5 334v6M869.5 393v7M870.5 341v9M870.5 384v9M871.5 350v34"/>
</g>
<g class="dl">
<text x="455" y="194.85">2</text>
<text x="564.3" y="222.95">12</text>
<text x="640.2" y="289.85">2</text>
<text x="648" y="317.85">3</text>
<text x="641" y="376.95">7</text>
<text x="605.7" y="423.85">1</text>
<text x="593" y="433.65">1</text>
<text x="558.4" y="457.05">4</text>
<text x="512.8" y="473.55">1</text>
<text x="494.7" y="476.45">1</text>
<text x="476" y="480.85">1</text>
<text x="430.2" y="480.65">4</text>
<text x="311.6" y="453.45">9</text>
<text x="241" y="383.55">4</text>
<text x="230.8" y="323.65">6</text>
<text x="276.2" y="246.85">8</text>
<text x="376" y="199.75">6</text>
<text x="432.1" y="194.85">1</text>
</g>
<rect x="889.5" y="163.5" width="159" height="471" fill="#fff" stroke="#000" stroke-width="1" shape-rendering="crispEdges"/>
<g class="lg">
<rect x="896.5" y="171.5" width="10" height="10" fill="#4F81BD" stroke="#000" stroke-width="1" shape-rendering="crispEdges"/>
<text id="lg0" x="912.3" y="181.9" textLength="80.12" lengthAdjust="spacingAndGlyphs">Arquivologia</text>
<rect x="896.5" y="197.5" width="10" height="10" fill="#C0504D" stroke="#000" stroke-width="1" shape-rendering="crispEdges"/>
<text id="lg1" x="912.3" y="207.9" textLength="88.51" lengthAdjust="spacingAndGlyphs">Artes Cênicas</text>
<rect x="896.5" y="223.5" width="10" height="10" fill="#9BBB59" stroke="#000" stroke-width="1" shape-rendering="crispEdges"/>
<text id="lg2" x="911.3" y="233.9" textLength="105.00" lengthAdjust="spacingAndGlyphs">Biblioteconomia</text>
<rect x="896.5" y="249.5" width="10" height="10" fill="#8064A2" stroke="#000" stroke-width="1" shape-rendering="crispEdges"/>
<text id="lg3" x="912.3" y="259.9" textLength="131.60" lengthAdjust="spacingAndGlyphs">Ciências Ambientais</text>
<rect x="896.5" y="275.5" width="10" height="10" fill="#4BACC6" stroke="#000" stroke-width="1" shape-rendering="crispEdges"/>
<text id="lg4" x="912.3" y="285.9" textLength="125.92" lengthAdjust="spacingAndGlyphs">Ciências Biológicas</text>
<rect x="896.5" y="301.5" width="10" height="10" fill="#F79646" stroke="#000" stroke-width="1" shape-rendering="crispEdges"/>
<text id="lg5" x="912.3" y="311.9" textLength="113.48" lengthAdjust="spacingAndGlyphs">Ciências Políticas</text>
<rect x="896.5" y="327.5" width="10" height="10" fill="#405B87" stroke="#000" stroke-width="1" shape-rendering="crispEdges"/>
<text id="lg6" x="911.3" y="337.9" textLength="45.14" lengthAdjust="spacingAndGlyphs">Direito</text>
<rect x="896.5" y="353.5" width="10" height="10" fill="#8A3A3A" stroke="#000" stroke-width="1" shape-rendering="crispEdges"/>
<text id="lg7" x="911.3" y="363.9" textLength="82.38" lengthAdjust="spacingAndGlyphs">Enfermagem</text>
<rect x="896.5" y="379.5" width="10" height="10" fill="#788F47" stroke="#000" stroke-width="1" shape-rendering="crispEdges"/>
<text id="lg8" x="911.3" y="389.9" textLength="51.36" lengthAdjust="spacingAndGlyphs">História</text>
<rect x="896.5" y="405.5" width="10" height="10" fill="#5F4A7E" stroke="#000" stroke-width="1" shape-rendering="crispEdges"/>
<text id="lg9" x="911.3" y="415.9" textLength="40.38" lengthAdjust="spacingAndGlyphs">Letras</text>
<rect x="896.5" y="431.5" width="10" height="10" fill="#35879C" stroke="#000" stroke-width="1" shape-rendering="crispEdges"/>
<text id="lg10" x="911.3" y="441.9" textLength="78.36" lengthAdjust="spacingAndGlyphs">Matemática</text>
<rect x="896.5" y="457.5" width="10" height="10" fill="#B97339" stroke="#000" stroke-width="1" shape-rendering="crispEdges"/>
<text id="lg11" x="911.3" y="467.9" textLength="59.69" lengthAdjust="spacingAndGlyphs">Medicina</text>
<rect x="896.5" y="483.5" width="10" height="10" fill="#B3C7E4" stroke="#000" stroke-width="1" shape-rendering="crispEdges"/>
<text id="lg12" x="911.3" y="493.9" textLength="76.08" lengthAdjust="spacingAndGlyphs">Museologia</text>
<rect x="896.5" y="509.5" width="10" height="10" fill="#E9AEAD" stroke="#000" stroke-width="1" shape-rendering="crispEdges"/>
<text id="lg13" x="911.3" y="519.9" textLength="46.73" lengthAdjust="spacingAndGlyphs">Música</text>
<rect x="896.5" y="535.5" width="10" height="10" fill="#D4E2B4" stroke="#000" stroke-width="1" shape-rendering="crispEdges"/>
<text id="lg14" x="911.3" y="545.9" textLength="54.99" lengthAdjust="spacingAndGlyphs">Nutrição</text>
<rect x="896.5" y="561.5" width="10" height="10" fill="#C6B7DA" stroke="#000" stroke-width="1" shape-rendering="crispEdges"/>
<text id="lg15" x="911.3" y="571.9" textLength="67.81" lengthAdjust="spacingAndGlyphs">Pedagogia</text>
<rect x="896.5" y="587.5" width="10" height="10" fill="#5A89C5" stroke="#000" stroke-width="1" shape-rendering="crispEdges"/>
<text id="lg16" x="911.3" y="597.9" textLength="89.51" lengthAdjust="spacingAndGlyphs">Serviço Social</text>
<rect x="896.5" y="613.5" width="10" height="10" fill="#C75450" stroke="#000" stroke-width="1" shape-rendering="crispEdges"/>
<text id="lg17" x="912.3" y="623.9" textLength="51.93" lengthAdjust="spacingAndGlyphs">Turismo</text>
</g>
</svg></body></html>
